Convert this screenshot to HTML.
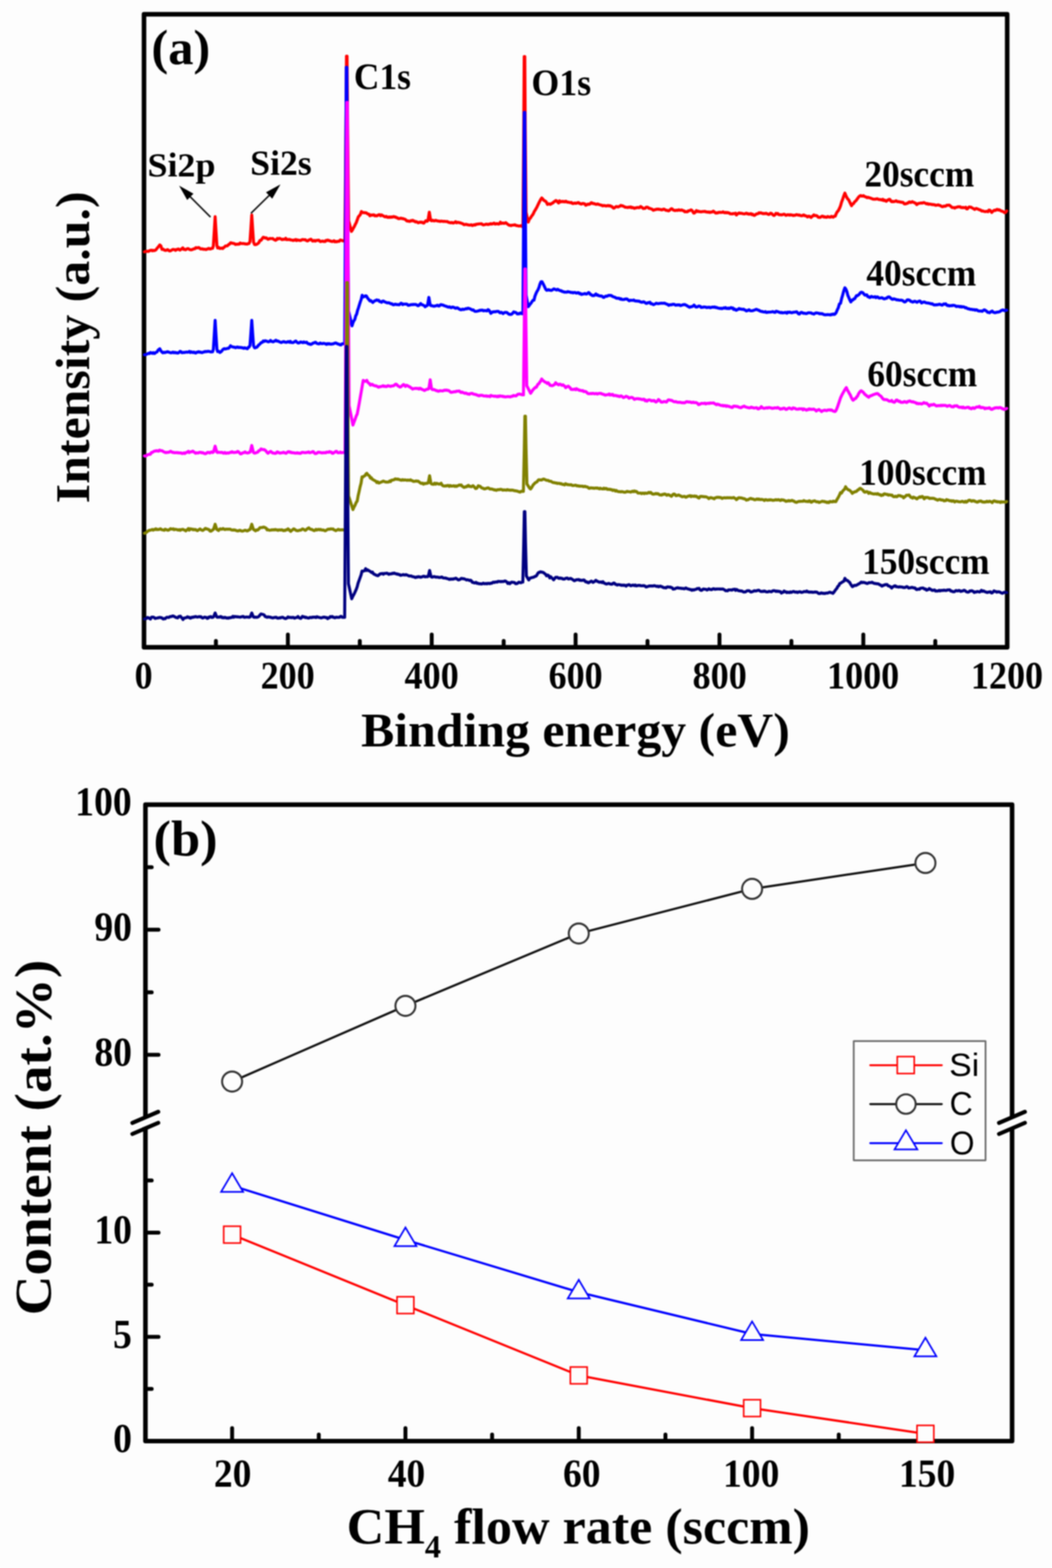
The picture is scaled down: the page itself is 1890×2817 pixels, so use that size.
<!DOCTYPE html>
<html><head><meta charset="utf-8"><title>XPS figure</title>
<style>html,body{margin:0;padding:0;background:#fdfdfd;}svg{display:block;filter:blur(0.8px);}</style>
</head><body>
<svg width="1890" height="2817" viewBox="0 0 1890 2817"><rect x="0" y="0" width="1890" height="2817" fill="#fdfdfd"/>
<rect x="258.7" y="25.7" width="1550.8" height="1137.2" fill="none" stroke="#000" stroke-width="8.2" stroke-linejoin="round"/>
<line x1="387.9" y1="1162.9" x2="387.9" y2="1151.4" stroke="#000" stroke-width="7" stroke-linecap="round"/>
<line x1="517.2" y1="1162.9" x2="517.2" y2="1139.9" stroke="#000" stroke-width="7" stroke-linecap="round"/>
<line x1="646.4" y1="1162.9" x2="646.4" y2="1151.4" stroke="#000" stroke-width="7" stroke-linecap="round"/>
<line x1="775.6" y1="1162.9" x2="775.6" y2="1139.9" stroke="#000" stroke-width="7" stroke-linecap="round"/>
<line x1="904.9" y1="1162.9" x2="904.9" y2="1151.4" stroke="#000" stroke-width="7" stroke-linecap="round"/>
<line x1="1034.1" y1="1162.9" x2="1034.1" y2="1139.9" stroke="#000" stroke-width="7" stroke-linecap="round"/>
<line x1="1163.3" y1="1162.9" x2="1163.3" y2="1151.4" stroke="#000" stroke-width="7" stroke-linecap="round"/>
<line x1="1292.6" y1="1162.9" x2="1292.6" y2="1139.9" stroke="#000" stroke-width="7" stroke-linecap="round"/>
<line x1="1421.8" y1="1162.9" x2="1421.8" y2="1151.4" stroke="#000" stroke-width="7" stroke-linecap="round"/>
<line x1="1551.0" y1="1162.9" x2="1551.0" y2="1139.9" stroke="#000" stroke-width="7" stroke-linecap="round"/>
<line x1="1680.3" y1="1162.9" x2="1680.3" y2="1151.4" stroke="#000" stroke-width="7" stroke-linecap="round"/>
<path d="M259.5 452.5 L261.3 451.7 L263.1 451.6 L264.9 451.3 L266.6 451.7 L268.4 450.6 L270.2 449.8 L272.0 449.5 L273.6 450.6 L275.2 449.7 L276.8 450.3 L278.4 449.7 L280.0 449.0 L282.0 446.2 L284.0 444.0 L287.0 440.0 L289.0 441.8 L291.0 448.0 L292.7 447.4 L294.3 448.7 L296.0 449.5 L297.6 449.8 L299.2 449.3 L300.9 448.4 L302.5 449.3 L304.1 450.6 L305.7 450.8 L307.3 450.1 L309.0 449.0 L310.6 448.1 L312.2 448.3 L313.8 448.6 L315.4 449.8 L317.0 448.3 L318.7 448.2 L320.3 447.3 L321.9 448.4 L323.5 449.3 L325.1 447.8 L326.8 446.8 L328.4 445.3 L330.0 448.0 L331.7 447.6 L333.3 448.7 L335.0 447.7 L336.7 446.8 L338.3 446.7 L340.0 447.9 L341.7 448.6 L343.3 448.8 L345.0 448.4 L346.7 447.7 L348.3 447.0 L350.0 446.9 L351.7 444.9 L353.3 445.3 L355.0 445.4 L356.7 444.6 L358.3 445.4 L360.0 447.0 L361.7 447.2 L363.4 446.9 L365.1 447.8 L366.8 447.6 L368.5 447.9 L370.2 448.3 L371.8 447.5 L373.5 447.2 L375.2 446.2 L376.9 447.4 L378.6 447.1 L380.3 446.1 L382.0 446.0 L383.3 441.7 L384.9 416.3 L386.5 389.3 L388.1 416.2 L389.7 441.3 L391.0 445.4 L393.0 444.6 L395.0 446.4 L397.0 446.0 L398.6 445.8 L400.2 446.4 L401.8 444.6 L403.4 443.8 L405.0 442.0 L406.8 441.9 L408.7 441.5 L410.5 439.5 L412.3 438.6 L414.2 436.2 L416.0 436.5 L417.8 437.1 L419.5 437.2 L421.2 437.8 L423.0 439.3 L424.8 438.7 L426.5 438.9 L428.2 438.5 L430.0 438.5 L431.6 436.6 L433.2 437.4 L434.8 437.6 L436.4 437.5 L438.0 437.6 L439.6 438.0 L441.2 438.2 L442.8 438.4 L444.4 438.5 L446.0 437.5 L447.2 437.6 L449.1 434.2 L450.7 411.1 L452.3 386.2 L453.9 411.4 L455.5 435.2 L457.4 439.3 L458.0 439.5 L461.0 439.0 L463.0 437.8 L465.0 436.0 L467.0 432.0 L469.0 431.8 L471.0 428.7 L473.0 426.3 L474.7 426.7 L476.4 427.8 L478.1 427.2 L479.8 428.5 L481.5 429.9 L483.2 429.3 L484.9 428.4 L486.6 428.6 L488.3 428.6 L490.0 428.5 L491.7 430.1 L493.3 430.6 L495.0 431.7 L496.7 430.7 L498.3 428.4 L500.0 429.3 L501.7 428.2 L503.3 428.6 L505.0 429.4 L506.7 430.5 L508.3 429.8 L510.0 430.0 L511.7 429.9 L513.3 428.2 L515.0 430.6 L516.7 430.2 L518.3 430.5 L520.0 430.0 L521.6 431.0 L523.2 431.0 L524.8 431.5 L526.4 432.0 L528.0 431.2 L529.6 431.5 L531.2 430.4 L532.8 432.2 L534.4 430.9 L536.0 431.6 L537.6 431.7 L539.2 432.0 L540.8 431.8 L542.4 430.6 L544.0 430.3 L545.6 430.6 L547.2 430.8 L548.8 430.8 L550.4 432.1 L552.0 432.8 L553.6 432.4 L555.2 430.9 L556.8 430.8 L558.4 429.7 L560.0 431.0 L561.6 433.1 L563.2 432.9 L564.8 431.9 L566.4 433.2 L568.0 432.0 L569.6 432.0 L571.2 431.6 L572.8 431.5 L574.4 433.2 L576.0 434.1 L577.6 433.4 L579.2 433.2 L580.8 433.7 L582.4 433.5 L584.0 433.9 L585.6 432.0 L587.2 432.3 L588.8 431.2 L590.4 432.2 L592.0 432.3 L593.6 433.2 L595.2 433.4 L596.8 434.0 L598.4 433.5 L600.0 432.5 L601.6 434.4 L603.2 433.6 L604.8 434.5 L606.4 433.6 L608.0 433.4 L609.6 433.5 L611.2 431.3 L612.8 431.5 L614.4 432.0 L616.0 432.7 L619.6 432.7 L621.3 250.3 L622.5 101.0 L623.5 101.0 L624.7 242.6 L626.4 396.8 L631.4 415.7 L633.1 413.3 L634.8 409.9 L636.6 406.9 L638.3 403.1 L640.0 400.0 L641.9 394.8 L643.7 389.8 L645.6 387.5 L647.4 385.4 L649.3 380.0 L651.1 381.6 L652.9 382.1 L654.7 382.0 L656.5 382.3 L658.3 382.5 L660.4 384.3 L662.5 384.7 L664.6 387.6 L666.3 386.2 L668.1 386.7 L669.8 386.1 L671.6 385.9 L673.3 387.7 L675.1 387.2 L676.8 387.9 L678.6 386.9 L680.3 386.0 L682.1 385.8 L683.8 387.6 L685.5 386.1 L687.2 387.2 L688.9 387.9 L690.6 389.1 L692.3 389.6 L694.0 388.7 L695.7 390.2 L697.4 390.5 L699.1 389.6 L700.8 390.5 L702.5 389.6 L704.2 390.2 L705.8 389.6 L707.4 389.0 L709.1 390.1 L710.7 389.8 L712.3 391.1 L713.9 391.2 L715.5 392.6 L717.1 392.8 L718.8 392.3 L720.4 391.9 L722.0 392.7 L723.6 392.6 L725.3 393.3 L726.9 393.7 L728.5 394.4 L730.1 396.3 L731.8 397.2 L733.4 396.8 L735.0 397.7 L736.6 397.6 L738.3 396.3 L739.9 396.8 L741.5 395.8 L743.2 397.2 L744.8 397.3 L746.4 398.8 L748.0 398.2 L749.7 399.1 L751.3 400.2 L752.9 399.6 L754.5 398.9 L756.2 399.5 L757.8 399.0 L759.6 400.4 L761.5 400.9 L763.3 398.5 L765.2 396.6 L767.0 397.5 L767.5 397.4 L768.9 396.1 L770.1 388.8 L771.3 381.2 L772.5 388.7 L773.7 395.6 L775.1 396.6 L776.0 396.5 L777.6 395.7 L779.2 396.8 L780.8 396.7 L782.5 395.8 L784.1 396.4 L785.7 396.8 L787.3 397.2 L788.9 397.1 L790.5 397.8 L792.1 397.3 L793.8 397.4 L795.4 397.7 L797.0 397.8 L798.6 397.8 L800.3 397.9 L801.9 398.1 L803.6 398.0 L805.2 399.1 L806.9 399.7 L808.6 400.0 L810.2 400.2 L811.9 399.7 L813.5 400.5 L815.2 400.6 L816.9 399.4 L818.5 398.3 L820.2 400.2 L821.9 399.5 L823.5 399.5 L825.2 400.1 L826.8 400.2 L828.5 401.0 L830.2 401.5 L831.8 402.2 L833.5 403.5 L835.1 403.6 L836.8 402.9 L838.5 403.3 L840.1 403.9 L841.8 404.0 L843.4 404.5 L845.1 404.2 L846.8 403.8 L848.4 405.1 L850.1 404.6 L851.7 403.7 L853.4 404.3 L855.1 403.0 L856.7 403.0 L858.4 402.5 L860.1 402.4 L861.7 402.1 L863.4 402.1 L865.0 402.0 L866.7 403.3 L868.4 404.0 L870.0 403.7 L871.7 403.3 L873.3 402.7 L875.0 402.9 L876.6 403.3 L878.2 402.8 L879.8 402.9 L881.4 401.8 L883.0 402.6 L884.6 402.2 L886.2 401.5 L887.8 400.9 L889.4 402.5 L891.0 402.3 L892.6 401.7 L894.2 402.2 L895.8 402.6 L897.4 401.6 L899.0 399.2 L900.6 401.6 L902.2 400.9 L903.8 400.8 L905.4 401.3 L907.0 400.9 L908.6 400.0 L910.2 401.4 L911.8 402.6 L913.4 403.7 L915.0 404.8 L916.6 404.6 L918.2 405.3 L919.9 404.6 L921.5 404.4 L923.1 404.4 L924.7 403.9 L926.3 404.5 L927.9 405.3 L929.5 405.4 L931.1 405.8 L932.7 406.1 L934.3 405.8 L935.9 405.5 L937.5 406.7 L939.5 406.7 L940.9 239.0 L941.8 101.8 L942.8 101.8 L943.7 235.5 L945.1 381.2 L949.0 399.0 L950.9 394.0 L952.9 391.8 L954.8 388.6 L956.7 386.3 L958.4 383.4 L960.0 379.7 L961.7 377.2 L963.3 374.4 L965.0 371.2 L966.7 367.6 L968.3 364.3 L970.0 361.0 L971.6 358.1 L973.3 355.7 L975.0 357.2 L976.7 359.6 L978.4 360.6 L980.1 361.6 L981.8 363.6 L983.5 367.2 L985.2 366.5 L986.8 366.1 L988.5 367.2 L990.2 366.3 L991.8 365.0 L993.5 364.6 L995.2 362.6 L996.9 361.6 L998.5 360.3 L1000.2 361.0 L1001.9 363.1 L1003.5 364.6 L1005.2 360.8 L1006.8 362.8 L1008.5 362.4 L1010.1 361.6 L1011.8 362.5 L1013.4 361.9 L1015.1 362.7 L1016.7 361.5 L1018.4 362.8 L1020.0 363.4 L1021.6 363.2 L1023.2 363.8 L1024.8 364.1 L1026.5 363.7 L1028.1 365.3 L1029.7 365.7 L1031.3 365.2 L1032.9 364.8 L1034.5 365.4 L1036.1 364.9 L1037.8 364.2 L1039.4 363.9 L1041.0 365.5 L1042.6 365.7 L1044.2 366.7 L1045.8 365.8 L1047.5 365.5 L1049.1 365.9 L1050.7 366.3 L1052.3 368.7 L1053.9 368.2 L1055.5 367.0 L1057.1 366.8 L1058.8 367.0 L1060.4 366.1 L1062.0 364.3 L1063.6 364.4 L1065.2 365.9 L1066.8 365.7 L1068.4 366.2 L1070.1 366.9 L1071.7 367.2 L1073.3 366.4 L1074.9 366.9 L1076.5 367.6 L1078.1 368.0 L1079.7 368.5 L1081.4 368.9 L1083.0 369.9 L1084.6 369.2 L1086.2 369.4 L1087.8 369.8 L1089.4 370.0 L1091.1 369.7 L1092.7 369.2 L1094.3 370.0 L1095.9 369.5 L1097.5 370.7 L1099.1 370.9 L1100.7 372.6 L1102.4 374.1 L1104.0 373.3 L1105.6 372.0 L1107.2 371.0 L1108.8 371.4 L1110.4 371.9 L1112.1 371.0 L1113.7 370.5 L1115.3 369.1 L1116.9 369.7 L1118.6 369.7 L1120.2 370.7 L1121.8 371.4 L1123.4 372.4 L1125.0 372.4 L1126.7 372.7 L1128.3 372.7 L1129.9 372.2 L1131.5 372.5 L1133.2 371.7 L1134.8 373.2 L1136.4 372.7 L1138.0 373.6 L1139.7 374.3 L1141.3 373.5 L1142.9 373.5 L1144.5 372.9 L1146.1 372.8 L1147.8 373.2 L1149.4 372.6 L1151.0 371.0 L1152.6 372.0 L1154.3 373.5 L1155.9 374.7 L1157.5 374.4 L1159.1 374.2 L1160.8 372.4 L1162.4 372.1 L1164.0 372.5 L1165.6 374.2 L1167.2 374.3 L1168.9 375.0 L1170.5 375.4 L1172.1 376.3 L1173.7 377.8 L1175.4 377.2 L1177.0 376.5 L1178.6 376.5 L1180.2 375.6 L1181.8 376.0 L1183.5 375.8 L1185.1 376.2 L1186.7 376.4 L1188.3 377.0 L1190.0 376.9 L1191.6 375.9 L1193.2 375.8 L1194.8 376.8 L1196.5 377.8 L1198.1 377.8 L1199.7 378.3 L1201.3 378.8 L1202.9 377.7 L1204.6 376.1 L1206.2 374.9 L1207.8 375.5 L1209.4 377.3 L1211.1 377.7 L1212.7 378.4 L1214.3 377.7 L1215.9 377.7 L1217.5 378.0 L1219.1 376.9 L1220.7 377.5 L1222.3 377.8 L1223.9 377.3 L1225.5 377.5 L1227.1 378.5 L1228.7 378.6 L1230.3 380.6 L1231.9 379.9 L1233.5 380.6 L1235.1 380.3 L1236.7 378.6 L1238.3 378.7 L1239.9 377.9 L1241.5 377.0 L1243.1 378.0 L1244.7 380.2 L1246.3 382.7 L1247.9 382.5 L1249.5 380.3 L1251.1 378.4 L1252.7 380.1 L1254.3 379.3 L1255.9 380.4 L1257.5 380.1 L1259.1 380.6 L1260.7 380.5 L1262.3 380.0 L1263.9 380.1 L1265.5 379.8 L1267.1 380.0 L1268.7 380.8 L1270.3 380.6 L1271.9 381.3 L1273.5 380.7 L1275.1 381.7 L1276.7 381.0 L1278.3 381.1 L1279.9 380.5 L1281.5 379.3 L1283.1 380.5 L1284.7 382.0 L1286.3 382.9 L1287.9 382.2 L1289.5 382.6 L1291.1 381.5 L1292.7 381.5 L1294.3 381.4 L1295.9 381.7 L1297.5 381.4 L1299.1 380.5 L1300.7 381.8 L1302.3 382.2 L1303.9 381.5 L1305.5 382.4 L1307.1 381.8 L1308.7 382.5 L1310.3 382.7 L1311.9 384.1 L1313.5 384.1 L1315.1 384.3 L1316.7 383.8 L1318.3 383.7 L1319.9 383.7 L1321.5 383.0 L1323.1 386.2 L1324.7 384.2 L1326.3 383.6 L1328.0 382.5 L1329.6 383.4 L1331.2 383.0 L1332.8 383.4 L1334.4 383.9 L1336.0 384.1 L1337.6 384.4 L1339.3 383.6 L1340.9 382.9 L1342.5 384.2 L1344.1 383.9 L1345.7 384.9 L1347.3 384.4 L1349.0 383.7 L1350.6 385.6 L1352.2 384.7 L1353.8 386.6 L1355.4 387.0 L1357.0 385.9 L1358.6 384.6 L1360.3 384.1 L1361.9 383.9 L1363.5 382.3 L1365.1 382.9 L1366.7 382.1 L1368.3 382.9 L1369.9 383.7 L1371.6 383.5 L1373.2 383.8 L1374.8 383.7 L1376.4 383.2 L1378.0 384.0 L1379.6 384.7 L1381.2 385.4 L1382.9 384.2 L1384.5 383.0 L1386.1 383.5 L1387.7 385.1 L1389.3 386.6 L1390.9 387.1 L1392.5 385.5 L1394.2 383.2 L1395.8 384.2 L1397.4 383.6 L1399.0 385.6 L1400.6 385.7 L1402.2 385.7 L1403.9 386.1 L1405.5 385.8 L1407.1 385.1 L1408.7 384.8 L1410.3 385.6 L1411.9 386.9 L1413.5 386.3 L1415.2 385.8 L1416.8 385.9 L1418.4 386.6 L1420.0 385.7 L1421.6 386.3 L1423.2 386.3 L1424.9 387.2 L1426.5 386.6 L1428.1 386.9 L1429.7 386.1 L1431.3 385.6 L1432.9 386.0 L1434.6 386.6 L1436.2 386.1 L1437.8 387.2 L1439.4 387.5 L1441.0 387.6 L1442.6 386.7 L1444.3 386.2 L1445.9 387.6 L1447.5 387.6 L1449.1 388.4 L1450.7 389.8 L1452.4 388.5 L1454.0 388.5 L1455.6 389.6 L1457.2 390.7 L1458.8 389.0 L1460.4 387.8 L1462.1 386.0 L1463.7 387.3 L1465.3 387.3 L1466.9 387.5 L1468.5 388.3 L1470.1 390.4 L1471.8 390.5 L1473.4 390.5 L1475.0 389.7 L1476.7 388.4 L1478.4 388.5 L1480.1 390.0 L1481.8 389.4 L1483.5 390.3 L1485.2 390.4 L1486.9 388.9 L1488.6 389.6 L1490.3 390.0 L1492.0 390.1 L1493.7 388.7 L1495.4 389.7 L1497.1 390.2 L1498.8 388.5 L1500.5 388.4 L1502.4 383.7 L1504.3 380.3 L1506.2 378.3 L1508.1 374.6 L1510.0 370.0 L1512.0 363.0 L1514.0 357.7 L1515.9 352.0 L1517.9 346.9 L1519.6 351.3 L1521.3 354.7 L1523.0 357.5 L1524.8 359.1 L1526.5 362.8 L1528.2 366.2 L1529.9 369.6 L1531.5 366.5 L1533.2 366.0 L1534.8 363.4 L1536.5 361.7 L1538.1 360.3 L1539.8 357.8 L1541.4 355.6 L1543.1 353.4 L1544.7 352.2 L1546.3 351.3 L1548.0 352.3 L1549.6 352.3 L1551.3 351.6 L1552.9 352.9 L1554.6 353.5 L1556.2 354.1 L1557.9 355.1 L1559.5 354.5 L1561.2 355.1 L1562.8 355.5 L1564.5 356.1 L1566.1 356.8 L1567.7 357.4 L1569.4 357.9 L1571.0 357.9 L1572.7 357.7 L1574.3 357.5 L1576.0 357.0 L1577.6 358.0 L1579.3 358.5 L1580.9 358.5 L1582.6 358.7 L1584.2 359.4 L1585.9 358.0 L1587.5 360.3 L1589.1 359.4 L1590.7 360.8 L1592.3 361.6 L1593.9 360.0 L1595.5 359.3 L1597.1 358.1 L1598.8 358.2 L1600.4 361.1 L1602.0 362.3 L1603.6 361.8 L1605.2 362.3 L1606.8 362.0 L1608.4 361.6 L1610.0 360.7 L1611.6 361.9 L1613.2 362.5 L1614.8 362.1 L1616.4 363.0 L1618.1 362.9 L1619.7 363.5 L1621.3 363.4 L1622.9 364.0 L1624.5 366.2 L1626.1 366.2 L1627.7 366.1 L1629.3 365.2 L1630.9 365.1 L1632.5 363.5 L1634.1 362.8 L1635.7 363.9 L1637.3 363.3 L1639.0 362.3 L1640.6 363.4 L1642.2 363.6 L1643.8 364.8 L1645.4 365.4 L1647.0 367.5 L1648.6 366.3 L1650.2 365.5 L1651.8 365.1 L1653.4 364.9 L1655.0 364.6 L1656.6 364.8 L1658.3 364.3 L1659.9 363.9 L1661.5 364.6 L1663.1 365.5 L1664.7 366.2 L1666.3 365.7 L1667.9 367.0 L1669.5 366.5 L1671.2 366.9 L1672.8 366.9 L1674.4 367.7 L1676.1 367.4 L1677.7 367.9 L1679.3 368.0 L1681.0 368.9 L1682.6 368.6 L1684.2 368.3 L1685.9 368.0 L1687.5 368.9 L1689.1 369.1 L1690.8 370.4 L1692.4 371.2 L1694.0 371.3 L1695.7 370.2 L1697.3 370.6 L1698.9 370.3 L1700.6 369.0 L1702.2 368.7 L1703.9 368.6 L1705.5 368.5 L1707.1 369.8 L1708.8 371.3 L1710.4 372.8 L1712.0 372.9 L1713.7 372.9 L1715.3 373.8 L1716.9 372.7 L1718.6 372.3 L1720.2 371.8 L1721.8 371.4 L1723.5 371.7 L1725.1 371.5 L1726.7 372.8 L1728.4 373.0 L1730.0 372.8 L1731.6 373.0 L1733.3 373.1 L1734.9 372.3 L1736.5 375.0 L1738.1 375.2 L1739.7 373.1 L1741.3 371.8 L1742.9 372.1 L1744.5 372.2 L1746.1 373.4 L1747.7 374.1 L1749.3 375.0 L1750.9 376.2 L1752.5 375.1 L1754.1 374.5 L1755.8 375.2 L1757.4 375.8 L1759.0 376.7 L1760.6 376.9 L1762.2 377.9 L1763.8 379.1 L1765.4 378.9 L1767.0 379.5 L1768.6 379.9 L1770.2 380.2 L1771.8 379.8 L1773.4 379.7 L1775.0 380.4 L1776.7 377.4 L1778.3 377.7 L1780.0 379.4 L1781.7 381.7 L1783.4 379.7 L1785.0 378.7 L1786.7 377.7 L1788.4 378.0 L1790.1 376.8 L1791.8 376.1 L1793.4 377.3 L1795.1 376.8 L1796.8 377.8 L1798.5 378.9 L1800.1 379.4 L1801.8 380.0 L1803.5 381.1 L1805.2 382.2 L1806.8 381.3 L1808.5 379.0" fill="none" stroke="#ff0000" stroke-width="5.4" stroke-linejoin="round" stroke-linecap="round"/>
<path d="M259.5 637.3 L261.3 637.4 L263.1 636.6 L264.9 635.7 L266.6 634.8 L268.4 635.2 L270.2 633.3 L272.0 634.0 L273.6 634.8 L275.2 633.5 L276.8 635.1 L278.4 634.6 L280.0 633.0 L282.0 632.5 L284.0 629.0 L287.0 626.5 L289.0 630.2 L291.0 632.5 L292.7 633.8 L294.3 632.9 L296.0 633.5 L297.6 632.8 L299.2 632.5 L300.9 631.9 L302.5 632.4 L304.1 633.0 L305.7 633.4 L307.3 633.9 L309.0 633.4 L310.6 632.6 L312.2 633.7 L313.8 632.9 L315.4 633.9 L317.0 633.5 L318.7 634.2 L320.3 634.0 L321.9 632.8 L323.5 631.2 L325.1 631.8 L326.8 633.6 L328.4 633.5 L330.0 633.0 L331.7 633.2 L333.3 632.8 L335.0 632.4 L336.7 632.8 L338.3 632.6 L340.0 631.4 L341.7 633.3 L343.3 632.0 L345.0 632.8 L346.7 633.3 L348.3 632.5 L350.0 633.8 L351.7 634.2 L353.3 632.7 L355.0 632.8 L356.7 631.8 L358.3 632.7 L360.0 632.5 L361.7 633.3 L363.4 633.5 L365.1 632.5 L366.8 632.3 L368.5 631.5 L370.2 631.7 L371.8 631.5 L373.5 631.3 L375.2 631.3 L376.9 631.7 L378.6 632.3 L380.3 632.0 L382.0 632.0 L383.3 627.8 L384.9 602.5 L386.5 575.5 L388.1 602.4 L389.7 627.5 L391.0 631.6 L393.0 631.1 L395.0 633.3 L397.0 632.0 L398.6 630.4 L400.2 628.2 L401.8 626.8 L403.4 626.4 L405.0 627.0 L406.8 626.5 L408.7 625.9 L410.5 625.7 L412.3 624.0 L414.2 621.2 L416.0 622.7 L417.8 623.1 L419.5 623.7 L421.2 623.7 L423.0 624.7 L424.8 624.0 L426.5 623.4 L428.2 624.4 L430.0 624.0 L431.6 624.4 L433.2 624.3 L434.8 624.8 L436.4 625.0 L438.0 625.7 L439.6 624.7 L441.2 625.5 L442.8 625.8 L444.4 626.4 L446.0 624.0 L447.2 624.0 L449.1 620.6 L450.7 598.9 L452.3 575.5 L453.9 599.0 L455.5 621.1 L457.4 624.9 L458.0 625.0 L461.0 624.0 L463.0 622.0 L465.0 619.6 L467.0 618.0 L469.0 615.7 L471.0 615.2 L473.0 612.5 L474.6 613.4 L476.2 612.1 L477.9 612.6 L479.5 613.0 L481.1 613.8 L482.7 614.1 L484.3 613.4 L486.0 611.6 L487.6 613.4 L489.2 613.6 L490.8 614.1 L492.4 613.1 L494.1 612.5 L495.7 611.2 L497.3 612.8 L498.9 612.6 L500.6 613.3 L502.2 614.2 L503.8 614.8 L505.4 615.4 L507.0 614.6 L508.7 613.9 L510.3 613.7 L511.9 614.7 L513.5 614.8 L515.1 615.0 L516.8 614.0 L518.4 613.7 L520.0 615.0 L521.6 613.3 L523.2 615.3 L524.9 615.4 L526.5 615.5 L528.1 614.6 L529.7 613.7 L531.4 612.7 L533.0 614.4 L534.6 615.6 L536.2 616.2 L537.8 615.8 L539.5 614.5 L541.1 614.5 L542.7 615.2 L544.3 615.6 L545.9 614.2 L547.6 615.4 L549.2 615.4 L550.8 614.8 L552.4 616.6 L554.1 617.8 L555.7 617.6 L557.3 618.6 L558.9 618.8 L560.5 617.8 L562.2 616.5 L563.8 616.2 L565.4 615.1 L567.0 615.0 L568.6 616.6 L570.3 617.3 L571.9 617.6 L573.5 617.8 L575.1 616.3 L576.8 617.0 L578.4 617.5 L580.0 617.0 L581.6 617.0 L583.3 617.1 L584.9 617.8 L586.5 618.8 L588.2 617.3 L589.8 618.1 L591.5 617.3 L593.1 618.1 L594.7 618.2 L596.4 618.0 L598.0 617.9 L599.6 617.4 L601.3 616.5 L602.9 616.1 L604.5 616.7 L606.2 617.7 L607.8 618.2 L609.5 618.7 L611.1 619.6 L612.7 619.6 L614.4 617.7 L616.0 617.6 L619.2 617.6 L620.9 344.5 L622.1 121.0 L623.1 121.0 L624.3 330.0 L626.0 557.5 L632.4 585.4 L634.1 580.0 L635.8 576.2 L637.4 573.9 L639.1 567.4 L640.7 564.5 L642.4 557.6 L644.0 553.1 L645.7 547.4 L647.3 542.4 L649.0 537.7 L650.6 530.5 L652.5 533.6 L654.5 532.8 L656.4 531.5 L658.3 531.7 L660.4 535.5 L662.5 538.0 L664.6 540.7 L666.3 540.1 L668.1 542.0 L669.8 543.4 L671.6 541.7 L673.3 540.4 L675.1 539.9 L676.8 538.8 L678.6 539.7 L680.3 539.5 L682.1 541.8 L683.8 542.0 L685.5 543.1 L687.2 541.1 L688.9 540.8 L690.6 542.1 L692.3 542.8 L694.0 543.4 L695.7 544.1 L697.4 544.0 L699.1 544.0 L700.8 545.0 L702.5 545.9 L704.2 545.8 L705.8 547.4 L707.4 547.6 L709.0 546.7 L710.6 546.5 L712.3 547.1 L713.9 547.2 L715.5 547.2 L717.1 547.6 L718.7 546.4 L720.3 544.8 L721.9 545.4 L723.5 547.3 L725.1 546.3 L726.7 546.4 L728.4 546.3 L730.0 546.1 L731.6 546.8 L733.2 548.5 L734.8 548.3 L736.4 548.0 L738.0 547.4 L739.6 547.3 L741.2 547.3 L742.9 546.8 L744.5 547.1 L746.1 546.9 L747.7 547.3 L749.3 548.2 L750.9 549.3 L752.5 548.7 L754.1 546.9 L755.7 545.4 L757.3 547.1 L759.0 547.6 L760.6 548.4 L762.2 549.1 L763.8 551.2 L765.4 549.6 L766.7 549.5 L768.1 548.3 L769.3 541.5 L770.5 534.3 L771.7 541.4 L772.9 548.0 L774.3 549.0 L775.0 549.0 L776.8 549.4 L778.6 550.1 L780.4 550.0 L782.2 549.6 L784.0 549.2 L785.8 548.3 L787.5 549.6 L789.1 549.7 L790.8 547.9 L792.4 547.2 L794.1 547.9 L795.8 548.0 L797.4 548.9 L799.1 549.5 L800.7 550.0 L802.4 550.6 L804.1 551.3 L805.7 551.9 L807.4 551.1 L809.1 552.2 L810.7 552.9 L812.4 551.7 L814.0 551.8 L815.7 552.3 L817.4 553.4 L819.0 553.9 L820.7 553.0 L822.3 553.1 L824.0 554.7 L825.6 555.5 L827.3 556.4 L828.9 556.5 L830.6 555.4 L832.2 556.0 L833.9 555.8 L835.5 555.2 L837.2 554.4 L838.8 554.9 L840.5 553.8 L842.1 554.0 L843.8 554.5 L845.4 555.3 L847.1 556.1 L848.7 557.1 L850.4 556.8 L852.0 558.5 L853.7 559.4 L855.3 559.4 L857.0 559.1 L858.6 558.7 L860.3 558.3 L861.9 557.4 L863.6 557.7 L865.2 557.1 L866.9 557.1 L868.5 558.5 L870.2 558.0 L871.8 557.9 L873.5 558.3 L875.1 558.5 L876.8 556.3 L878.5 557.3 L880.2 559.7 L881.9 562.9 L883.6 561.5 L885.3 560.3 L887.0 560.4 L888.7 560.0 L890.4 560.1 L892.1 559.5 L893.8 559.4 L895.5 559.4 L897.2 561.1 L898.9 562.1 L900.6 561.0 L902.2 562.2 L903.8 563.4 L905.4 562.2 L907.0 561.1 L908.6 561.4 L910.2 561.3 L911.8 562.4 L913.4 563.8 L915.0 564.9 L916.6 564.7 L918.2 564.8 L919.9 563.8 L921.5 562.3 L923.1 560.3 L924.7 561.1 L926.3 561.3 L927.9 562.4 L929.5 564.0 L931.1 563.4 L932.7 563.8 L934.3 562.5 L935.9 562.3 L937.5 563.6 L939.5 563.6 L940.9 364.7 L941.8 201.9 L942.8 201.9 L943.7 358.9 L945.1 530.0 L949.0 550.9 L950.7 548.9 L952.4 546.5 L954.1 544.5 L955.9 541.6 L957.6 539.5 L959.3 539.4 L961.1 532.0 L962.9 527.4 L964.7 523.6 L966.6 520.6 L968.4 516.2 L970.2 510.1 L972.0 506.2 L973.7 506.1 L975.4 509.3 L977.1 512.6 L978.8 516.2 L980.5 519.9 L982.2 521.5 L983.8 521.2 L985.4 520.3 L987.1 521.3 L988.7 521.1 L990.3 521.8 L991.9 521.1 L993.5 520.2 L995.1 519.0 L996.8 519.5 L998.4 520.5 L1000.0 521.0 L1001.7 519.7 L1003.3 520.6 L1005.0 521.5 L1006.7 522.2 L1008.3 522.3 L1010.0 523.9 L1011.7 523.8 L1013.3 524.7 L1015.0 524.6 L1016.7 524.9 L1018.3 524.9 L1020.0 524.0 L1021.6 524.3 L1023.3 524.6 L1024.9 525.1 L1026.5 525.6 L1028.2 525.3 L1029.8 526.2 L1031.4 525.4 L1033.1 525.4 L1034.7 526.3 L1036.3 526.6 L1038.0 525.8 L1039.6 525.9 L1041.2 527.7 L1042.9 527.3 L1044.5 529.0 L1046.1 528.5 L1047.8 528.1 L1049.4 527.9 L1051.0 527.3 L1052.6 528.2 L1054.3 528.1 L1055.9 526.9 L1057.5 525.5 L1059.2 526.8 L1060.8 529.1 L1062.4 529.4 L1064.1 531.1 L1065.7 530.9 L1067.3 531.1 L1069.0 529.5 L1070.6 528.2 L1072.2 530.3 L1073.9 529.8 L1075.5 531.4 L1077.1 531.4 L1078.8 532.0 L1080.4 531.7 L1082.0 532.4 L1083.6 534.0 L1085.2 534.3 L1086.9 532.8 L1088.5 532.0 L1090.1 532.4 L1091.7 531.5 L1093.3 530.8 L1094.9 530.7 L1096.6 530.7 L1098.2 530.9 L1099.8 532.3 L1101.4 532.9 L1103.0 533.6 L1104.6 533.9 L1106.2 535.1 L1107.9 535.8 L1109.5 535.8 L1111.1 536.0 L1112.7 536.0 L1114.3 537.4 L1115.9 536.8 L1117.5 538.1 L1119.2 538.1 L1120.8 538.1 L1122.4 537.5 L1124.0 537.3 L1125.6 537.0 L1127.2 537.6 L1128.9 539.3 L1130.5 540.4 L1132.1 539.4 L1133.7 539.5 L1135.3 539.6 L1136.9 539.6 L1138.5 538.9 L1140.2 540.3 L1141.8 540.7 L1143.4 540.7 L1145.0 540.8 L1146.6 541.2 L1148.2 540.9 L1149.8 542.0 L1151.5 542.7 L1153.1 543.0 L1154.7 542.7 L1156.3 542.2 L1157.9 543.0 L1159.5 544.1 L1161.2 545.1 L1162.8 544.6 L1164.4 543.6 L1166.0 543.8 L1167.6 543.0 L1169.2 545.7 L1170.9 545.4 L1172.5 546.6 L1174.1 547.3 L1175.7 546.6 L1177.3 545.9 L1178.9 544.8 L1180.6 545.2 L1182.2 545.5 L1183.8 545.4 L1185.4 545.0 L1187.0 544.9 L1188.6 544.7 L1190.3 544.9 L1191.9 544.8 L1193.5 544.6 L1195.1 545.2 L1196.7 546.0 L1198.3 546.5 L1200.0 547.3 L1201.6 548.6 L1203.2 547.7 L1204.8 547.4 L1206.4 547.7 L1208.1 546.8 L1209.7 546.8 L1211.3 546.8 L1212.9 547.8 L1214.5 548.3 L1216.1 547.7 L1217.8 548.0 L1219.4 547.7 L1221.0 547.8 L1222.6 549.0 L1224.2 548.6 L1225.8 547.9 L1227.5 547.5 L1229.1 547.1 L1230.7 547.2 L1232.3 548.4 L1233.9 548.8 L1235.6 550.4 L1237.2 550.9 L1238.8 552.0 L1240.4 551.2 L1242.0 551.2 L1243.6 550.7 L1245.3 549.8 L1246.9 548.1 L1248.5 549.6 L1250.1 551.6 L1251.7 551.6 L1253.3 551.2 L1255.0 549.9 L1256.6 549.9 L1258.2 550.7 L1259.8 552.4 L1261.4 552.1 L1263.0 552.0 L1264.7 551.4 L1266.3 551.6 L1267.9 551.8 L1269.5 552.6 L1271.1 552.1 L1272.8 552.2 L1274.4 551.9 L1276.0 552.9 L1277.6 552.4 L1279.3 551.8 L1280.9 551.8 L1282.5 552.0 L1284.1 551.4 L1285.8 552.6 L1287.4 552.2 L1289.0 553.2 L1290.6 553.5 L1292.2 553.7 L1293.9 554.3 L1295.5 553.7 L1297.1 554.5 L1298.7 554.0 L1300.4 552.9 L1302.0 553.7 L1303.6 552.6 L1305.2 554.1 L1306.8 554.2 L1308.5 553.4 L1310.1 554.4 L1311.7 553.5 L1313.3 552.6 L1315.0 553.9 L1316.6 553.3 L1318.2 556.0 L1319.8 555.1 L1321.5 556.8 L1323.1 557.3 L1324.7 556.0 L1326.3 555.8 L1327.9 554.2 L1329.6 555.3 L1331.2 555.2 L1332.8 555.7 L1334.4 555.9 L1336.1 555.5 L1337.7 556.8 L1339.3 557.2 L1340.9 558.6 L1342.5 558.2 L1344.2 557.1 L1345.8 556.4 L1347.4 558.0 L1349.0 558.4 L1350.7 558.4 L1352.3 558.1 L1353.9 557.5 L1355.5 557.0 L1357.2 556.4 L1358.8 555.7 L1360.4 556.3 L1362.0 557.4 L1363.6 557.4 L1365.3 558.8 L1366.9 559.1 L1368.5 559.7 L1370.1 559.7 L1371.8 560.4 L1373.4 560.6 L1375.0 559.8 L1376.6 561.2 L1378.2 561.2 L1379.8 560.6 L1381.4 560.9 L1383.0 560.6 L1384.6 560.6 L1386.2 560.3 L1387.9 559.9 L1389.5 560.2 L1391.1 561.1 L1392.7 561.1 L1394.3 559.3 L1395.9 559.5 L1397.5 560.0 L1399.1 560.7 L1400.7 561.2 L1402.3 561.9 L1403.9 561.1 L1405.5 562.1 L1407.1 561.9 L1408.8 561.7 L1410.4 561.3 L1412.0 561.5 L1413.6 562.7 L1415.2 560.8 L1416.8 561.3 L1418.4 560.7 L1420.0 561.2 L1421.6 561.8 L1423.3 561.7 L1424.9 561.2 L1426.5 560.9 L1428.2 560.7 L1429.8 560.4 L1431.4 560.2 L1433.1 562.2 L1434.7 563.8 L1436.3 564.2 L1438.0 562.0 L1439.6 561.1 L1441.2 561.5 L1442.9 562.7 L1444.5 562.7 L1446.1 562.9 L1447.8 563.4 L1449.4 563.3 L1451.0 562.3 L1452.6 561.9 L1454.3 561.9 L1455.9 562.1 L1457.5 562.3 L1459.2 563.3 L1460.8 563.7 L1462.4 564.2 L1464.1 562.9 L1465.7 562.2 L1467.3 562.1 L1469.0 562.4 L1470.6 562.6 L1472.2 563.7 L1473.9 563.2 L1475.5 563.9 L1477.1 563.4 L1478.8 564.5 L1480.4 565.2 L1482.1 565.6 L1483.8 565.5 L1485.4 565.4 L1487.1 565.1 L1488.8 565.4 L1490.5 565.4 L1492.1 565.9 L1493.8 564.6 L1495.5 565.1 L1497.2 564.1 L1498.8 565.0 L1500.5 563.9 L1502.4 561.3 L1504.3 556.6 L1506.2 552.6 L1508.1 545.9 L1510.0 545.0 L1512.0 536.6 L1514.0 529.7 L1515.9 522.4 L1517.9 517.0 L1519.7 519.6 L1521.5 523.9 L1523.2 530.7 L1525.0 534.7 L1526.8 539.0 L1528.6 542.4 L1530.3 539.1 L1532.0 539.1 L1533.7 537.2 L1535.4 536.9 L1537.1 534.0 L1538.8 531.3 L1540.5 531.2 L1542.2 529.9 L1543.9 528.4 L1545.6 526.1 L1547.3 525.0 L1549.0 525.3 L1550.7 526.5 L1552.3 528.6 L1554.0 530.2 L1555.7 529.8 L1557.3 529.8 L1559.0 533.1 L1560.7 533.0 L1562.3 534.6 L1563.9 534.0 L1565.5 532.4 L1567.1 533.2 L1568.7 533.8 L1570.3 533.6 L1572.0 533.0 L1573.6 534.8 L1575.2 533.4 L1576.8 533.4 L1578.4 535.0 L1580.0 535.6 L1581.6 535.4 L1583.2 535.0 L1584.8 534.9 L1586.4 536.0 L1588.0 536.7 L1589.6 536.7 L1591.3 535.9 L1592.9 535.9 L1594.5 534.2 L1596.1 533.4 L1597.7 533.5 L1599.3 534.9 L1600.9 536.2 L1602.5 537.5 L1604.1 537.7 L1605.7 536.8 L1607.3 537.3 L1608.9 537.7 L1610.5 538.5 L1612.2 538.8 L1613.8 538.7 L1615.4 539.4 L1617.0 539.4 L1618.6 539.3 L1620.2 539.5 L1621.8 540.0 L1623.4 541.5 L1625.0 542.5 L1626.6 542.2 L1628.2 540.6 L1629.8 539.0 L1631.5 538.7 L1633.1 539.1 L1634.7 539.7 L1636.3 541.6 L1637.9 541.6 L1639.5 542.7 L1641.1 542.4 L1642.7 541.2 L1644.3 541.4 L1645.9 542.3 L1647.5 543.1 L1649.1 542.0 L1650.7 541.3 L1652.4 540.7 L1654.0 541.9 L1655.6 544.3 L1657.2 543.4 L1658.8 542.8 L1660.4 542.5 L1662.0 543.1 L1663.6 544.0 L1665.2 544.1 L1666.8 544.5 L1668.4 544.5 L1670.0 545.0 L1671.7 545.4 L1673.3 546.0 L1674.9 545.7 L1676.5 547.0 L1678.1 547.7 L1679.7 547.8 L1681.3 547.8 L1682.9 547.4 L1684.5 547.5 L1686.1 547.1 L1687.7 546.4 L1689.3 547.1 L1690.9 547.6 L1692.6 548.3 L1694.2 547.2 L1695.8 545.9 L1697.4 546.6 L1699.0 545.8 L1700.6 547.9 L1702.2 549.0 L1703.8 548.4 L1705.4 549.6 L1707.0 549.4 L1708.6 548.9 L1710.2 549.2 L1711.9 548.4 L1713.5 548.6 L1715.1 548.9 L1716.7 549.7 L1718.3 550.8 L1719.9 550.2 L1721.5 550.5 L1723.1 550.4 L1724.7 551.4 L1726.3 550.5 L1727.9 551.7 L1729.5 551.2 L1731.1 551.2 L1732.7 551.8 L1734.3 553.0 L1735.9 552.6 L1737.5 554.1 L1739.2 554.8 L1740.8 554.8 L1742.4 555.5 L1744.0 555.8 L1745.6 555.6 L1747.2 556.3 L1748.8 556.5 L1750.4 556.1 L1752.0 557.2 L1753.6 556.5 L1755.2 556.8 L1756.8 558.1 L1758.4 558.6 L1760.0 558.9 L1761.6 558.8 L1763.2 558.9 L1764.8 559.3 L1766.4 557.9 L1768.0 556.7 L1769.7 557.2 L1771.3 558.4 L1772.9 559.4 L1774.5 561.1 L1776.1 561.1 L1777.7 561.9 L1779.3 560.6 L1780.9 559.6 L1782.5 558.8 L1784.1 560.6 L1785.7 561.2 L1787.3 561.8 L1789.0 561.3 L1790.6 561.1 L1792.2 560.6 L1793.8 560.6 L1795.5 560.0 L1797.1 559.4 L1798.7 557.9 L1800.4 557.4 L1802.0 556.7 L1803.6 557.7 L1805.2 558.2 L1806.9 557.2 L1808.5 557.2" fill="none" stroke="#0000ff" stroke-width="5.4" stroke-linejoin="round" stroke-linecap="round"/>
<path d="M259.5 819.0 L261.3 819.6 L263.1 818.4 L264.9 817.0 L266.6 816.5 L268.4 816.4 L270.2 816.0 L272.0 813.0 L273.6 812.9 L275.2 811.6 L276.9 810.8 L278.5 810.1 L280.1 810.2 L281.8 809.7 L283.4 810.3 L285.0 810.5 L286.7 808.7 L288.3 809.5 L290.0 809.8 L291.7 809.9 L293.3 811.4 L295.0 812.0 L296.7 813.0 L298.3 812.8 L300.0 813.0 L301.6 812.5 L303.2 812.5 L304.8 811.9 L306.4 810.7 L308.0 811.6 L309.6 812.7 L311.2 812.5 L312.8 813.2 L314.4 813.2 L316.0 813.3 L317.6 812.9 L319.2 813.6 L320.8 813.2 L322.4 813.8 L324.0 813.8 L325.6 813.7 L327.2 814.9 L328.8 814.5 L330.4 813.6 L332.0 814.7 L333.6 813.4 L335.2 812.9 L336.8 812.0 L338.4 810.9 L340.0 813.0 L341.6 811.9 L343.2 811.8 L344.8 811.3 L346.5 810.5 L348.1 812.0 L349.7 812.9 L351.3 814.3 L352.9 813.4 L354.5 813.7 L356.2 813.9 L357.8 812.8 L359.4 812.7 L361.0 812.6 L362.6 813.6 L364.2 813.1 L365.8 814.0 L367.5 814.8 L369.1 815.1 L370.7 814.3 L372.3 813.0 L373.9 812.8 L375.5 813.0 L377.2 813.8 L378.8 812.4 L380.4 811.9 L382.0 813.0 L383.5 812.1 L385.0 807.0 L386.5 801.5 L388.0 807.0 L389.5 812.1 L391.0 813.0 L392.6 812.4 L394.2 812.6 L395.8 813.0 L397.4 812.8 L399.1 812.7 L400.7 814.0 L402.3 814.1 L403.9 812.8 L405.5 814.4 L407.1 814.2 L408.7 813.4 L410.3 814.1 L411.9 813.5 L413.6 812.4 L415.2 812.9 L416.8 811.6 L418.4 812.6 L420.0 813.0 L421.7 812.8 L423.4 812.6 L425.1 812.6 L426.8 811.0 L428.4 811.6 L430.1 813.3 L431.8 815.3 L433.5 815.2 L435.2 814.0 L436.9 813.4 L438.6 813.0 L440.2 811.8 L441.9 813.2 L443.6 813.6 L445.3 813.8 L447.0 813.0 L447.5 813.0 L449.3 812.3 L450.8 806.6 L452.3 800.3 L453.8 806.7 L455.3 812.8 L457.0 814.0 L459.0 813.8 L461.0 813.0 L463.0 812.2 L465.0 809.7 L467.0 809.0 L469.0 806.6 L471.0 807.4 L473.0 807.9 L474.8 807.8 L476.5 808.9 L478.2 810.7 L480.0 813.0 L481.6 814.3 L483.3 812.8 L484.9 811.6 L486.5 811.0 L488.1 812.4 L489.8 813.8 L491.4 813.9 L493.0 814.3 L494.7 814.5 L496.3 814.0 L497.9 811.9 L499.5 812.4 L501.2 813.4 L502.8 814.0 L504.4 813.9 L506.0 813.4 L507.7 813.2 L509.3 812.5 L510.9 813.2 L512.6 813.9 L514.2 814.4 L515.8 812.9 L517.4 811.6 L519.1 811.4 L520.7 812.7 L522.3 812.1 L524.0 813.5 L525.6 813.1 L527.2 813.5 L528.8 813.7 L530.5 814.0 L532.1 814.1 L533.7 813.3 L535.3 814.2 L537.0 813.9 L538.6 814.5 L540.2 814.4 L541.9 813.0 L543.5 812.7 L545.1 812.8 L546.7 813.1 L548.4 813.4 L550.0 813.0 L551.6 812.8 L553.2 812.5 L554.8 811.9 L556.5 813.4 L558.1 813.0 L559.7 812.5 L561.3 811.5 L562.9 811.4 L564.5 813.5 L566.1 814.8 L567.7 814.7 L569.4 814.2 L571.0 812.6 L572.6 812.3 L574.2 812.8 L575.8 812.9 L577.4 813.5 L579.0 813.7 L580.6 813.2 L582.3 813.5 L583.9 813.0 L585.5 813.5 L587.1 812.1 L588.7 812.4 L590.3 812.5 L591.9 811.3 L593.5 812.2 L595.2 812.2 L596.8 814.3 L598.4 814.4 L600.0 813.0 L601.6 812.4 L603.2 810.9 L604.8 811.0 L606.4 813.1 L608.0 813.5 L609.6 813.2 L611.2 812.1 L612.8 813.4 L614.4 813.1 L616.0 813.0 L620.0 813.0 L621.8 467.0 L623.1 183.9 L624.1 183.9 L625.4 444.8 L627.2 728.8 L634.1 763.6 L636.0 758.3 L637.9 753.5 L639.8 747.8 L641.7 744.0 L643.5 734.8 L645.3 725.0 L647.1 714.5 L648.9 704.4 L650.7 693.8 L652.5 683.4 L654.1 684.3 L655.8 685.1 L657.4 684.8 L659.0 683.4 L660.6 686.5 L662.2 688.3 L663.9 689.2 L665.5 692.0 L667.1 690.7 L668.8 690.4 L670.4 692.1 L672.0 692.4 L673.6 693.2 L675.2 693.1 L676.9 693.8 L678.5 694.9 L680.1 695.7 L681.8 694.6 L683.4 694.8 L685.0 694.2 L686.7 693.8 L688.3 693.0 L690.0 694.2 L691.7 693.8 L693.3 694.5 L695.0 694.3 L696.7 693.0 L698.4 693.1 L700.0 693.8 L701.7 694.2 L703.4 693.5 L705.0 693.4 L706.7 693.1 L708.4 692.1 L710.0 690.7 L711.7 690.2 L713.4 691.6 L715.0 693.3 L716.7 694.1 L718.4 695.3 L720.1 695.0 L721.7 693.7 L723.4 692.0 L725.1 690.8 L726.7 692.1 L728.4 694.2 L730.0 692.2 L731.6 692.6 L733.3 693.4 L734.9 694.9 L736.5 695.0 L738.1 696.7 L739.8 697.4 L741.4 699.0 L743.0 698.1 L744.6 698.0 L746.3 697.7 L747.9 697.6 L749.5 698.1 L751.1 697.8 L752.8 698.9 L754.4 697.5 L756.0 698.1 L757.6 699.4 L759.3 699.9 L760.9 700.7 L762.7 701.5 L764.5 700.4 L766.2 699.6 L768.0 699.0 L769.1 699.1 L770.5 698.0 L771.7 690.5 L772.9 682.3 L774.1 690.6 L775.3 698.4 L776.7 699.9 L778.0 700.0 L779.8 699.8 L781.6 700.7 L783.4 701.7 L785.2 701.8 L787.0 702.9 L788.7 702.7 L790.3 701.8 L792.0 702.1 L793.6 702.1 L795.3 702.4 L796.9 701.6 L798.6 701.0 L800.2 701.2 L801.9 700.8 L803.5 701.3 L805.2 701.5 L806.8 702.1 L808.5 703.5 L810.1 704.8 L811.8 704.8 L813.4 704.2 L815.1 704.0 L816.8 703.6 L818.4 703.8 L820.1 702.8 L821.8 702.9 L823.4 702.6 L825.1 702.4 L826.8 704.2 L828.5 705.3 L830.1 704.3 L831.8 705.2 L833.5 705.9 L835.1 706.7 L836.8 706.1 L838.4 706.7 L840.0 707.9 L841.6 707.7 L843.2 708.4 L844.8 707.1 L846.4 706.9 L848.1 706.7 L849.7 707.6 L851.3 708.1 L852.9 708.4 L854.5 708.8 L856.1 709.4 L857.7 710.0 L859.3 710.6 L860.9 711.1 L862.5 710.1 L864.1 710.2 L865.7 710.1 L867.3 710.5 L868.9 711.4 L870.6 711.4 L872.2 711.5 L873.8 711.2 L875.4 712.0 L877.0 711.7 L878.6 711.9 L880.2 712.6 L881.8 710.4 L883.5 711.0 L885.1 711.4 L886.7 711.7 L888.3 712.0 L890.0 711.7 L891.6 712.2 L893.2 712.8 L894.8 711.5 L896.5 712.6 L898.1 711.1 L899.7 711.6 L901.3 712.0 L903.0 711.7 L904.6 712.8 L906.2 712.4 L907.8 713.2 L909.5 712.9 L911.1 712.5 L912.7 712.6 L914.3 712.5 L915.9 713.0 L917.5 712.8 L919.2 712.0 L920.8 711.8 L922.4 710.5 L924.0 711.1 L925.6 711.0 L927.2 711.2 L928.8 709.8 L930.4 708.4 L932.0 708.1 L933.7 708.0 L935.3 708.3 L936.9 708.8 L938.5 709.4 L940.4 709.4 L941.9 585.0 L942.9 483.2 L943.9 483.2 L944.9 583.7 L946.4 693.1 L953.3 706.5 L955.0 703.9 L956.6 701.5 L958.3 699.3 L959.9 697.9 L961.6 695.9 L963.2 695.9 L964.9 693.3 L966.6 690.1 L968.2 689.3 L969.9 686.4 L971.5 684.6 L973.2 680.9 L974.9 683.2 L976.5 684.2 L978.2 685.7 L979.9 686.8 L981.5 687.2 L983.2 689.0 L984.9 687.7 L986.6 689.6 L988.2 692.3 L989.9 692.4 L991.6 693.0 L993.3 692.5 L995.0 691.4 L996.6 690.4 L998.3 687.5 L1000.0 689.9 L1001.6 689.9 L1003.2 691.4 L1004.9 690.7 L1006.5 690.2 L1008.1 691.2 L1009.7 692.3 L1011.4 691.2 L1013.0 692.7 L1014.6 693.7 L1016.2 696.4 L1017.9 695.4 L1019.5 694.3 L1021.1 693.8 L1022.7 695.4 L1024.4 696.8 L1026.0 699.5 L1027.6 699.5 L1029.2 699.7 L1030.9 699.5 L1032.5 698.9 L1034.1 700.1 L1035.7 698.3 L1037.4 699.7 L1039.0 699.9 L1040.6 701.2 L1042.2 701.1 L1043.9 701.8 L1045.5 702.0 L1047.1 701.8 L1048.7 703.5 L1050.4 703.2 L1052.0 703.5 L1053.6 704.3 L1055.2 706.2 L1056.8 707.1 L1058.5 707.4 L1060.1 707.0 L1061.7 707.0 L1063.3 707.2 L1065.0 706.7 L1066.6 707.0 L1068.2 707.5 L1069.8 707.2 L1071.4 706.9 L1073.1 707.9 L1074.7 707.3 L1076.3 706.7 L1077.9 706.9 L1079.6 706.6 L1081.2 707.7 L1082.8 708.2 L1084.4 708.5 L1086.1 709.3 L1087.7 709.8 L1089.3 709.4 L1090.9 709.1 L1092.5 709.1 L1094.2 707.9 L1095.8 709.6 L1097.4 708.6 L1099.0 709.6 L1100.7 708.6 L1102.3 710.7 L1103.9 710.6 L1105.5 710.3 L1107.2 710.8 L1108.8 711.5 L1110.4 711.3 L1112.0 712.4 L1113.6 712.5 L1115.3 711.1 L1116.9 711.7 L1118.5 713.0 L1120.1 714.3 L1121.8 713.7 L1123.4 712.9 L1125.0 711.9 L1126.6 712.7 L1128.2 713.3 L1129.9 715.4 L1131.5 714.9 L1133.1 714.1 L1134.7 714.0 L1136.4 714.3 L1138.0 715.7 L1139.6 717.5 L1141.2 716.8 L1142.8 716.3 L1144.5 716.4 L1146.1 716.2 L1147.7 716.7 L1149.3 716.8 L1151.0 717.0 L1152.6 717.6 L1154.2 718.0 L1155.8 717.2 L1157.5 717.5 L1159.1 720.0 L1160.7 719.0 L1162.3 720.6 L1163.9 719.3 L1165.5 718.4 L1167.1 718.5 L1168.7 719.0 L1170.3 720.3 L1171.9 719.7 L1173.5 720.2 L1175.1 719.4 L1176.7 721.0 L1178.3 722.2 L1179.9 721.5 L1181.5 719.8 L1183.1 717.8 L1184.7 719.3 L1186.3 720.5 L1187.9 722.4 L1189.5 722.5 L1191.1 722.2 L1192.7 721.3 L1194.3 721.6 L1195.9 721.8 L1197.5 722.3 L1199.1 719.9 L1200.7 718.4 L1202.3 718.5 L1203.9 719.0 L1205.5 719.2 L1207.1 719.7 L1208.7 720.5 L1210.3 721.5 L1211.9 721.9 L1213.5 721.5 L1215.1 721.8 L1216.7 722.6 L1218.3 722.8 L1219.9 722.8 L1221.5 722.7 L1223.1 723.0 L1224.7 723.5 L1226.3 723.5 L1227.9 723.4 L1229.5 723.7 L1231.1 723.1 L1232.7 722.0 L1234.3 721.7 L1235.9 722.1 L1237.5 722.3 L1239.1 722.3 L1240.7 722.4 L1242.3 723.3 L1243.9 723.1 L1245.5 722.5 L1247.1 723.3 L1248.7 723.4 L1250.3 723.2 L1251.9 724.0 L1253.5 724.9 L1255.1 727.0 L1256.7 726.5 L1258.3 725.7 L1259.9 724.6 L1261.5 724.6 L1263.1 724.9 L1264.7 724.7 L1266.3 724.3 L1267.9 725.7 L1269.5 724.7 L1271.1 724.9 L1272.7 724.4 L1274.3 724.8 L1275.9 723.9 L1277.5 724.2 L1279.1 724.1 L1280.7 724.0 L1282.4 723.9 L1284.0 725.4 L1285.6 726.0 L1287.2 727.1 L1288.8 725.9 L1290.4 726.7 L1292.0 727.2 L1293.6 727.7 L1295.2 728.4 L1296.8 728.7 L1298.4 728.1 L1300.0 729.4 L1301.6 728.8 L1303.2 728.7 L1304.8 730.1 L1306.4 729.0 L1308.1 730.0 L1309.7 729.9 L1311.3 730.8 L1312.9 731.2 L1314.5 732.0 L1316.1 732.0 L1317.7 729.7 L1319.3 729.7 L1320.9 729.6 L1322.5 730.4 L1324.1 730.1 L1325.7 730.6 L1327.3 731.6 L1328.9 731.9 L1330.5 732.5 L1332.1 732.2 L1333.7 730.9 L1335.4 730.4 L1337.0 729.6 L1338.6 730.8 L1340.2 731.2 L1341.8 731.9 L1343.4 732.1 L1345.0 732.6 L1346.6 732.8 L1348.2 732.4 L1349.8 731.4 L1351.5 732.4 L1353.1 732.5 L1354.7 733.1 L1356.4 732.9 L1358.0 732.5 L1359.6 732.5 L1361.3 734.3 L1362.9 734.7 L1364.5 733.1 L1366.2 733.0 L1367.8 730.5 L1369.4 732.4 L1371.0 733.1 L1372.7 733.6 L1374.3 733.4 L1375.9 732.8 L1377.6 732.5 L1379.2 733.1 L1380.8 732.2 L1382.5 732.2 L1384.1 732.8 L1385.7 732.9 L1387.4 733.7 L1389.0 733.3 L1390.6 733.2 L1392.3 732.7 L1393.9 732.9 L1395.5 733.1 L1397.2 732.1 L1398.8 733.0 L1400.4 733.8 L1402.0 735.1 L1403.7 734.3 L1405.3 734.6 L1406.9 733.7 L1408.6 733.2 L1410.2 734.0 L1411.8 735.5 L1413.5 735.4 L1415.1 734.2 L1416.7 733.2 L1418.4 733.0 L1420.0 733.8 L1421.6 734.8 L1423.2 734.9 L1424.8 732.8 L1426.4 733.4 L1428.0 733.4 L1429.6 734.7 L1431.2 735.1 L1432.8 735.1 L1434.4 735.0 L1436.0 734.3 L1437.6 734.6 L1439.2 734.4 L1440.9 734.5 L1442.5 736.3 L1444.1 734.5 L1445.7 735.4 L1447.3 736.0 L1448.9 737.0 L1450.5 735.7 L1452.1 736.0 L1453.7 734.5 L1455.3 735.5 L1456.9 735.0 L1458.5 735.6 L1460.1 735.3 L1461.7 734.9 L1463.3 735.8 L1464.9 736.7 L1466.5 738.4 L1468.1 737.1 L1469.7 736.5 L1471.3 735.7 L1472.9 737.0 L1474.5 738.0 L1476.1 739.4 L1477.7 737.9 L1479.3 737.6 L1480.9 737.0 L1482.6 736.9 L1484.2 737.7 L1485.8 737.6 L1487.4 736.5 L1489.0 736.6 L1490.6 736.3 L1492.2 737.0 L1493.8 736.4 L1495.4 737.5 L1497.0 738.6 L1498.6 738.9 L1500.2 739.4 L1501.8 737.8 L1503.4 734.1 L1505.1 729.7 L1506.7 724.9 L1508.4 719.8 L1510.0 715.0 L1511.8 711.1 L1513.5 707.8 L1515.2 704.7 L1517.0 701.5 L1518.8 698.6 L1520.5 696.3 L1522.2 700.3 L1524.0 703.3 L1525.7 706.6 L1527.4 709.2 L1529.1 713.1 L1530.9 716.9 L1532.6 719.0 L1534.2 717.9 L1535.8 716.3 L1537.4 715.7 L1539.0 713.2 L1540.7 711.5 L1542.3 707.8 L1543.9 705.3 L1545.5 703.1 L1547.1 702.0 L1548.7 703.0 L1550.4 704.4 L1552.1 706.3 L1553.8 708.5 L1555.6 709.8 L1557.3 711.3 L1559.0 712.3 L1560.7 713.7 L1562.3 711.8 L1564.0 711.4 L1565.6 710.4 L1567.3 710.1 L1568.9 708.9 L1570.6 708.6 L1572.2 707.9 L1573.9 707.5 L1575.5 707.0 L1577.2 707.4 L1578.9 709.0 L1580.6 710.5 L1582.4 711.5 L1584.1 713.6 L1585.8 716.0 L1587.5 717.7 L1589.1 717.8 L1590.7 718.0 L1592.3 717.9 L1593.9 718.4 L1595.5 719.3 L1597.1 720.5 L1598.8 720.7 L1600.4 720.6 L1602.0 719.4 L1603.6 721.8 L1605.2 722.0 L1606.8 722.7 L1608.4 721.4 L1610.0 718.9 L1611.6 718.6 L1613.2 720.2 L1614.8 721.3 L1616.4 720.7 L1618.1 722.6 L1619.7 723.0 L1621.3 722.6 L1622.9 722.7 L1624.5 721.5 L1626.1 721.7 L1627.7 722.8 L1629.3 723.0 L1630.9 721.2 L1632.5 721.3 L1634.1 720.2 L1635.7 720.8 L1637.3 721.8 L1639.0 722.0 L1640.6 721.7 L1642.2 722.7 L1643.8 723.0 L1645.4 723.5 L1647.0 725.1 L1648.6 724.4 L1650.2 725.5 L1651.8 725.1 L1653.4 724.9 L1655.0 725.7 L1656.6 725.5 L1658.3 724.4 L1659.9 723.2 L1661.5 724.3 L1663.1 724.6 L1664.7 724.3 L1666.3 726.0 L1667.9 727.1 L1669.5 729.5 L1671.1 728.1 L1672.7 727.0 L1674.3 727.6 L1675.9 727.4 L1677.5 726.3 L1679.1 727.3 L1680.7 728.4 L1682.4 729.2 L1684.0 729.0 L1685.6 728.8 L1687.2 728.6 L1688.8 729.0 L1690.4 728.0 L1692.0 728.9 L1693.6 728.0 L1695.2 728.5 L1696.8 728.2 L1698.4 728.4 L1700.0 729.0 L1701.6 730.0 L1703.2 729.2 L1704.8 728.8 L1706.4 728.4 L1708.1 729.6 L1709.7 730.7 L1711.3 730.5 L1712.9 731.0 L1714.5 729.1 L1716.1 729.1 L1717.7 729.4 L1719.3 728.9 L1720.9 730.5 L1722.5 731.4 L1724.1 731.9 L1725.7 731.8 L1727.3 731.5 L1728.9 732.7 L1730.5 731.4 L1732.1 732.9 L1733.7 732.8 L1735.4 732.5 L1737.0 732.0 L1738.6 731.7 L1740.2 731.8 L1741.8 733.5 L1743.4 733.1 L1745.0 734.5 L1746.6 733.1 L1748.2 732.4 L1749.8 733.8 L1751.5 733.4 L1753.1 731.9 L1754.7 731.2 L1756.3 731.1 L1758.0 731.4 L1759.6 730.0 L1761.2 732.2 L1762.9 732.5 L1764.5 731.9 L1766.1 732.3 L1767.8 732.7 L1769.4 734.3 L1771.0 733.2 L1772.6 733.7 L1774.3 733.3 L1775.9 733.3 L1777.5 732.5 L1779.2 734.2 L1780.8 735.4 L1782.4 735.4 L1784.1 733.9 L1785.7 733.9 L1787.3 732.6 L1788.9 732.9 L1790.6 732.4 L1792.2 732.5 L1793.8 733.1 L1795.5 732.2 L1797.1 732.3 L1798.7 732.8 L1800.4 734.2 L1802.0 734.3 L1803.6 735.5 L1805.2 734.9 L1806.9 734.8 L1808.5 733.8" fill="none" stroke="#ff00ff" stroke-width="5.4" stroke-linejoin="round" stroke-linecap="round"/>
<path d="M259.5 958.0 L261.3 957.7 L263.1 956.4 L264.9 954.7 L266.6 953.6 L268.4 952.7 L270.2 952.5 L272.0 952.0 L273.6 951.2 L275.2 952.4 L276.8 951.1 L278.4 951.5 L280.0 950.0 L281.7 951.5 L283.3 951.2 L285.0 951.4 L286.7 950.8 L288.3 950.0 L290.0 951.2 L291.7 951.9 L293.3 952.1 L295.0 952.6 L296.7 950.7 L298.3 951.4 L300.0 952.0 L301.6 952.6 L303.2 952.1 L304.8 951.1 L306.4 949.8 L308.0 950.3 L309.6 950.7 L311.2 950.1 L312.8 951.7 L314.4 950.8 L316.0 951.1 L317.6 951.4 L319.2 952.0 L320.8 952.3 L322.4 951.5 L324.0 952.8 L325.6 951.4 L327.2 951.3 L328.8 951.0 L330.4 952.0 L332.0 952.4 L333.6 953.8 L335.2 952.5 L336.8 951.3 L338.4 949.6 L340.0 952.5 L341.6 950.0 L343.2 950.7 L344.8 950.4 L346.5 951.7 L348.1 951.0 L349.7 951.8 L351.3 951.3 L352.9 952.4 L354.5 953.3 L356.2 952.3 L357.8 951.3 L359.4 950.2 L361.0 951.6 L362.6 952.5 L364.2 953.0 L365.8 952.0 L367.5 950.5 L369.1 949.2 L370.7 950.4 L372.3 950.3 L373.9 951.2 L375.5 951.5 L377.2 954.1 L378.8 954.3 L380.4 953.4 L382.0 952.0 L383.5 951.2 L385.0 946.7 L386.5 941.8 L388.0 946.7 L389.5 951.2 L391.0 952.0 L392.6 953.2 L394.2 951.0 L395.8 950.0 L397.4 950.7 L399.1 950.6 L400.7 949.4 L402.3 950.5 L403.9 951.3 L405.5 950.8 L407.1 950.8 L408.7 950.7 L410.3 950.7 L411.9 950.7 L413.6 950.8 L415.2 951.8 L416.8 952.2 L418.4 952.2 L420.0 952.0 L421.7 952.2 L423.4 952.7 L425.1 953.4 L426.8 953.8 L428.4 953.8 L430.1 952.7 L431.8 953.0 L433.5 953.8 L435.2 954.2 L436.9 953.8 L438.6 953.2 L440.2 952.6 L441.9 952.9 L443.6 953.8 L445.3 953.6 L447.0 952.0 L447.5 952.0 L449.3 951.2 L450.8 946.7 L452.3 941.8 L453.8 946.7 L455.3 951.2 L457.0 952.0 L459.0 953.8 L461.0 952.0 L463.0 952.2 L465.0 950.4 L467.0 948.0 L469.0 947.9 L471.0 947.7 L473.0 947.0 L474.8 947.2 L476.5 947.9 L478.2 949.0 L480.0 952.0 L481.6 951.5 L483.3 952.5 L484.9 952.6 L486.5 952.3 L488.1 951.8 L489.8 952.1 L491.4 951.7 L493.0 952.0 L494.7 951.3 L496.3 952.0 L497.9 951.9 L499.5 952.8 L501.2 951.9 L502.8 952.0 L504.4 952.4 L506.0 951.6 L507.7 952.4 L509.3 953.4 L510.9 952.8 L512.6 953.0 L514.2 951.7 L515.8 951.8 L517.4 950.1 L519.1 951.4 L520.7 953.2 L522.3 954.6 L524.0 952.8 L525.6 951.9 L527.2 950.3 L528.8 950.5 L530.5 951.9 L532.1 952.8 L533.7 953.3 L535.3 953.5 L537.0 953.0 L538.6 952.4 L540.2 952.6 L541.9 951.5 L543.5 950.2 L545.1 950.8 L546.7 951.9 L548.4 952.8 L550.0 952.0 L551.6 950.3 L553.2 949.2 L554.8 948.2 L556.5 950.1 L558.1 951.0 L559.7 950.9 L561.3 951.8 L562.9 952.7 L564.5 953.3 L566.1 952.4 L567.7 951.0 L569.4 952.2 L571.0 951.3 L572.6 951.0 L574.2 951.9 L575.8 951.0 L577.4 952.0 L579.0 952.2 L580.6 952.1 L582.3 952.8 L583.9 953.6 L585.5 953.1 L587.1 952.0 L588.7 951.1 L590.3 950.6 L591.9 950.8 L593.5 950.3 L595.2 950.2 L596.8 950.6 L598.4 950.3 L600.0 952.0 L601.6 952.4 L603.2 953.3 L604.8 952.6 L606.4 951.9 L608.0 950.9 L609.6 952.1 L611.2 951.9 L612.8 952.1 L614.4 951.6 L616.0 952.0 L621.0 952.0 L622.3 707.6 L623.1 507.7 L624.1 507.7 L624.9 691.2 L626.2 890.9 L634.1 915.4 L636.0 911.0 L637.9 907.6 L639.8 902.9 L641.7 900.2 L643.4 890.6 L645.2 882.8 L646.9 874.8 L648.7 868.0 L650.4 856.8 L652.1 857.1 L653.8 855.4 L655.6 854.6 L657.3 851.8 L659.0 850.3 L660.6 852.8 L662.2 853.9 L663.9 855.2 L665.5 859.0 L667.1 858.3 L668.8 860.9 L670.4 861.8 L672.0 862.8 L673.6 863.6 L675.2 864.5 L676.9 866.8 L678.5 865.5 L680.2 867.7 L681.8 867.6 L683.5 866.5 L685.1 866.0 L686.8 865.2 L688.5 864.3 L690.1 864.8 L691.8 865.7 L693.4 866.0 L695.1 866.0 L696.7 866.1 L698.4 865.9 L700.1 864.0 L701.7 865.1 L703.4 862.8 L705.0 862.6 L706.7 862.2 L708.3 861.6 L710.0 860.3 L711.6 860.8 L713.2 861.0 L714.9 860.8 L716.5 861.4 L718.1 861.9 L719.7 862.3 L721.4 862.8 L723.0 861.7 L724.6 862.6 L726.3 862.3 L727.9 862.1 L729.5 862.5 L731.1 863.0 L732.8 862.4 L734.4 862.8 L736.0 862.7 L737.7 862.0 L739.3 863.3 L741.0 863.7 L742.6 864.9 L744.3 864.7 L745.9 864.6 L747.6 864.0 L749.3 864.6 L750.9 864.3 L752.6 865.5 L754.3 866.9 L755.9 868.2 L757.6 868.6 L759.2 868.0 L760.9 869.8 L762.9 868.5 L765.0 868.7 L767.0 868.0 L768.0 868.2 L769.4 867.4 L770.6 861.4 L771.8 854.7 L773.0 861.6 L774.2 868.2 L775.6 869.5 L777.0 869.8 L778.9 870.1 L780.7 868.1 L782.6 869.8 L784.2 868.2 L785.9 868.9 L787.5 869.3 L789.2 869.9 L790.8 869.3 L792.5 868.2 L794.1 871.1 L795.7 872.7 L797.4 873.1 L799.0 873.2 L800.7 872.8 L802.3 873.0 L804.0 872.3 L805.6 872.1 L807.2 873.8 L808.9 872.3 L810.5 873.4 L812.2 873.2 L813.8 873.1 L815.4 872.7 L817.1 873.9 L818.7 872.9 L820.4 873.9 L822.0 872.8 L823.7 872.2 L825.3 871.1 L826.9 871.8 L828.6 871.2 L830.2 873.6 L831.9 874.3 L833.5 875.6 L835.2 875.3 L836.8 874.2 L838.4 874.5 L840.0 872.7 L841.6 872.1 L843.2 874.0 L844.8 873.6 L846.4 874.5 L848.1 873.7 L849.7 872.6 L851.3 873.9 L852.9 875.8 L854.5 877.7 L856.1 877.4 L857.7 875.5 L859.3 872.7 L860.9 873.5 L862.5 873.6 L864.1 875.5 L865.7 876.7 L867.3 876.9 L868.9 877.8 L870.6 878.3 L872.2 877.8 L873.8 877.4 L875.4 876.8 L877.0 876.5 L878.6 877.3 L880.2 878.5 L881.8 878.5 L883.5 878.5 L885.1 879.1 L886.8 879.5 L888.4 880.3 L890.0 880.0 L891.7 881.0 L893.3 880.0 L895.0 879.7 L896.6 879.9 L898.3 879.3 L899.9 879.1 L901.5 879.6 L903.2 880.5 L904.8 880.3 L906.5 880.2 L908.1 880.4 L909.7 880.7 L911.4 879.6 L913.0 880.1 L914.7 880.6 L916.3 880.5 L917.9 880.7 L919.6 880.5 L921.2 880.6 L922.9 881.1 L924.5 881.6 L926.2 881.8 L927.8 882.0 L929.4 882.4 L931.1 883.0 L932.7 883.6 L934.4 884.0 L936.0 882.8 L940.3 882.8 L941.9 808.5 L943.0 747.7 L944.0 747.7 L945.1 806.0 L946.7 869.5 L951.7 877.3 L953.3 878.5 L955.0 876.2 L956.6 873.4 L958.2 870.7 L959.9 869.1 L961.5 867.4 L963.1 866.5 L964.7 865.7 L966.4 863.3 L968.0 861.9 L969.8 862.2 L971.6 862.1 L973.4 862.3 L975.2 861.1 L977.0 860.6 L978.6 861.4 L980.3 862.1 L981.9 862.9 L983.5 863.0 L985.2 863.1 L986.8 864.4 L988.5 864.6 L990.1 864.6 L991.7 866.1 L993.4 866.8 L995.0 867.0 L996.7 867.2 L998.3 867.8 L1000.0 867.7 L1001.6 868.6 L1003.2 868.4 L1004.8 868.2 L1006.4 869.2 L1008.0 868.8 L1009.6 869.9 L1011.2 870.4 L1012.8 870.1 L1014.4 871.1 L1016.0 869.1 L1017.6 869.7 L1019.2 870.8 L1020.8 870.4 L1022.4 871.1 L1024.0 871.1 L1025.6 870.7 L1027.2 871.5 L1028.8 872.3 L1030.4 872.1 L1032.0 872.1 L1033.6 871.7 L1035.2 872.2 L1036.8 873.0 L1038.4 872.6 L1040.0 873.5 L1041.6 873.2 L1043.2 873.6 L1044.8 873.4 L1046.4 873.4 L1048.0 874.4 L1049.6 874.0 L1051.2 873.7 L1052.8 874.6 L1054.4 874.6 L1056.0 875.3 L1057.6 877.0 L1059.2 877.2 L1060.8 876.5 L1062.4 876.5 L1064.0 877.0 L1065.6 876.6 L1067.2 877.4 L1068.8 876.9 L1070.4 876.7 L1072.0 877.0 L1073.6 876.8 L1075.2 877.3 L1076.8 878.3 L1078.4 877.1 L1080.0 877.9 L1081.6 878.2 L1083.2 878.4 L1084.8 877.0 L1086.4 878.3 L1088.0 877.5 L1089.6 877.7 L1091.2 879.2 L1092.8 878.9 L1094.4 879.4 L1096.0 879.0 L1097.6 879.8 L1099.2 879.8 L1100.8 881.2 L1102.4 880.3 L1104.0 880.7 L1105.6 882.2 L1107.2 881.1 L1108.8 882.5 L1110.4 883.0 L1112.1 883.4 L1113.7 883.3 L1115.3 883.7 L1116.9 883.2 L1118.6 883.5 L1120.2 883.9 L1121.8 884.4 L1123.4 884.2 L1125.0 883.6 L1126.7 882.8 L1128.3 883.4 L1129.9 883.4 L1131.5 883.6 L1133.2 884.0 L1134.8 883.3 L1136.4 882.4 L1138.0 883.3 L1139.7 882.0 L1141.3 883.2 L1142.9 882.8 L1144.5 883.8 L1146.1 885.9 L1147.8 885.9 L1149.4 885.9 L1151.0 885.8 L1152.6 886.9 L1154.3 886.0 L1155.9 885.9 L1157.5 886.9 L1159.1 885.8 L1160.8 886.2 L1162.4 886.3 L1164.0 885.7 L1165.6 884.5 L1167.2 885.6 L1168.9 884.6 L1170.5 885.9 L1172.1 887.5 L1173.7 887.9 L1175.4 887.5 L1177.0 887.1 L1178.6 886.5 L1180.2 887.4 L1181.8 886.8 L1183.5 887.8 L1185.1 889.0 L1186.7 889.1 L1188.3 889.5 L1190.0 888.3 L1191.6 888.6 L1193.2 887.5 L1194.8 887.7 L1196.5 888.7 L1198.1 889.8 L1199.7 888.7 L1201.3 888.8 L1202.9 889.8 L1204.6 890.3 L1206.2 891.6 L1207.8 889.9 L1209.4 888.1 L1211.1 887.4 L1212.7 888.5 L1214.3 890.5 L1215.9 890.3 L1217.5 889.8 L1219.1 889.1 L1220.7 890.0 L1222.3 890.9 L1223.9 891.5 L1225.5 892.5 L1227.1 892.2 L1228.7 891.8 L1230.3 891.9 L1231.9 893.3 L1233.5 892.8 L1235.1 891.9 L1236.7 891.3 L1238.3 890.8 L1239.9 890.5 L1241.5 892.3 L1243.1 890.9 L1244.7 891.6 L1246.3 891.8 L1247.9 890.9 L1249.5 892.0 L1251.1 891.4 L1252.7 892.9 L1254.3 894.0 L1255.9 894.8 L1257.5 892.3 L1259.1 891.6 L1260.7 892.0 L1262.3 892.0 L1263.9 892.3 L1265.5 892.5 L1267.1 892.4 L1268.7 892.6 L1270.3 893.4 L1271.9 894.1 L1273.5 895.8 L1275.1 894.6 L1276.7 893.9 L1278.3 894.3 L1279.9 894.8 L1281.5 895.4 L1283.1 896.2 L1284.7 894.5 L1286.3 894.2 L1287.9 893.4 L1289.5 893.5 L1291.1 893.4 L1292.7 893.9 L1294.3 893.8 L1295.9 894.3 L1297.5 895.5 L1299.1 894.6 L1300.7 894.3 L1302.3 894.3 L1303.9 894.6 L1305.5 894.2 L1307.1 894.2 L1308.7 894.2 L1310.3 894.4 L1311.9 894.1 L1313.5 894.5 L1315.1 894.6 L1316.7 894.1 L1318.3 893.8 L1319.9 895.1 L1321.5 895.8 L1323.1 897.6 L1324.7 896.5 L1326.3 894.6 L1328.0 894.2 L1329.6 894.6 L1331.2 894.5 L1332.8 894.8 L1334.4 895.3 L1336.0 896.0 L1337.6 895.9 L1339.3 897.1 L1340.9 898.6 L1342.5 897.7 L1344.1 897.8 L1345.7 896.6 L1347.3 895.9 L1349.0 895.4 L1350.6 896.3 L1352.2 896.4 L1353.8 896.9 L1355.4 897.8 L1357.0 897.8 L1358.6 897.0 L1360.3 896.4 L1361.9 897.3 L1363.5 896.5 L1365.1 897.5 L1366.7 897.5 L1368.3 897.1 L1369.9 897.6 L1371.6 897.9 L1373.2 899.2 L1374.8 897.8 L1376.4 897.8 L1378.0 898.5 L1379.6 898.6 L1381.2 898.0 L1382.9 898.3 L1384.5 897.8 L1386.1 898.1 L1387.7 898.8 L1389.3 898.8 L1390.9 898.6 L1392.5 898.1 L1394.2 897.7 L1395.8 898.4 L1397.4 897.9 L1399.0 897.6 L1400.6 898.7 L1402.2 899.2 L1403.9 897.8 L1405.5 898.3 L1407.1 898.1 L1408.7 898.9 L1410.3 899.5 L1411.9 900.7 L1413.5 900.3 L1415.2 900.1 L1416.8 899.2 L1418.4 900.0 L1420.0 899.8 L1421.6 899.5 L1423.2 898.9 L1424.8 900.1 L1426.4 900.3 L1428.0 901.6 L1429.6 902.2 L1431.2 902.6 L1432.8 901.5 L1434.4 901.1 L1436.0 900.7 L1437.6 900.9 L1439.2 900.6 L1440.9 900.6 L1442.5 900.6 L1444.1 899.3 L1445.7 900.1 L1447.3 900.6 L1448.9 901.0 L1450.5 900.6 L1452.1 901.2 L1453.7 899.7 L1455.3 900.1 L1456.9 902.2 L1458.5 902.0 L1460.1 900.5 L1461.7 900.4 L1463.3 899.6 L1464.9 900.5 L1466.5 901.5 L1468.1 901.5 L1469.7 901.5 L1471.3 902.7 L1472.9 902.4 L1474.5 901.5 L1476.1 901.0 L1477.7 900.4 L1479.3 901.1 L1480.9 900.8 L1482.6 901.9 L1484.2 901.6 L1485.8 903.0 L1487.4 902.0 L1489.0 903.0 L1490.6 901.2 L1492.2 901.0 L1493.8 901.6 L1495.4 901.6 L1497.0 900.3 L1498.6 901.2 L1500.2 900.6 L1501.8 901.2 L1503.4 897.8 L1505.1 895.2 L1506.7 892.3 L1508.4 888.9 L1510.0 885.0 L1511.8 885.9 L1513.7 882.6 L1515.5 880.5 L1517.4 878.8 L1519.2 874.4 L1520.9 877.6 L1522.7 878.7 L1524.4 880.2 L1526.1 880.6 L1527.8 882.0 L1529.6 884.0 L1531.3 886.4 L1532.9 884.5 L1534.5 884.4 L1536.1 883.2 L1537.7 883.3 L1539.3 882.2 L1540.9 880.4 L1542.5 879.9 L1544.1 877.9 L1545.7 877.2 L1547.3 878.4 L1549.0 879.6 L1550.7 881.0 L1552.3 883.5 L1554.0 884.3 L1555.7 883.5 L1557.3 883.2 L1559.0 884.0 L1560.7 886.4 L1562.3 884.7 L1563.9 885.5 L1565.5 886.6 L1567.1 886.7 L1568.7 887.4 L1570.3 887.5 L1572.0 887.2 L1573.6 887.1 L1575.2 887.9 L1576.8 886.8 L1578.4 887.9 L1580.0 888.9 L1581.6 888.8 L1583.2 890.3 L1584.8 889.2 L1586.4 889.5 L1588.0 887.6 L1589.6 887.1 L1591.3 887.9 L1592.9 888.3 L1594.5 888.2 L1596.1 889.6 L1597.7 889.0 L1599.3 889.1 L1600.9 889.7 L1602.5 889.5 L1604.1 891.4 L1605.7 892.3 L1607.3 892.2 L1608.9 891.5 L1610.5 892.5 L1612.2 891.9 L1613.8 890.3 L1615.4 890.4 L1617.0 890.4 L1618.6 891.4 L1620.2 891.8 L1621.8 892.2 L1623.4 894.3 L1625.0 892.9 L1626.6 891.9 L1628.2 889.9 L1629.8 889.6 L1631.5 889.9 L1633.1 889.3 L1634.7 891.2 L1636.3 893.3 L1637.9 893.8 L1639.5 894.9 L1641.1 893.1 L1642.7 893.9 L1644.3 894.4 L1645.9 895.5 L1647.5 896.3 L1649.1 894.5 L1650.7 893.9 L1652.4 892.5 L1654.0 893.5 L1655.6 892.2 L1657.2 892.0 L1658.8 894.1 L1660.4 896.2 L1662.0 893.7 L1663.6 894.1 L1665.2 893.7 L1666.8 893.8 L1668.4 894.3 L1670.0 895.5 L1671.7 895.1 L1673.3 895.3 L1674.9 895.3 L1676.5 895.1 L1678.1 895.5 L1679.7 896.3 L1681.3 897.2 L1682.9 897.7 L1684.5 898.6 L1686.1 897.8 L1687.7 897.1 L1689.3 897.4 L1690.9 898.3 L1692.6 898.3 L1694.2 898.4 L1695.8 899.8 L1697.4 899.5 L1699.0 899.4 L1700.6 897.6 L1702.2 898.3 L1703.8 898.4 L1705.4 899.5 L1707.0 899.9 L1708.6 899.4 L1710.2 900.7 L1711.9 899.7 L1713.5 899.9 L1715.1 901.8 L1716.7 900.6 L1718.3 900.4 L1719.9 900.7 L1721.5 901.2 L1723.1 901.4 L1724.7 901.7 L1726.3 901.3 L1727.9 900.8 L1729.6 900.7 L1731.2 901.8 L1732.8 902.1 L1734.4 900.6 L1736.0 902.2 L1737.6 901.4 L1739.2 899.7 L1740.8 898.8 L1742.4 898.6 L1744.1 899.7 L1745.7 900.6 L1747.3 899.4 L1748.9 900.0 L1750.5 899.8 L1752.1 901.0 L1753.7 901.2 L1755.3 902.2 L1756.9 901.8 L1758.6 900.4 L1760.2 900.6 L1761.8 900.0 L1763.4 900.6 L1765.0 901.9 L1766.6 901.8 L1768.2 902.2 L1769.8 901.7 L1771.4 901.7 L1773.1 900.5 L1774.7 901.6 L1776.3 901.4 L1777.9 900.4 L1779.5 901.1 L1781.1 901.8 L1782.7 903.0 L1784.3 900.6 L1785.9 899.8 L1787.6 900.2 L1789.2 901.3 L1790.8 900.9 L1792.4 901.8 L1794.0 901.5 L1795.6 901.6 L1797.2 902.7 L1798.8 901.3 L1800.4 902.1 L1802.1 901.6 L1803.7 901.9 L1805.3 901.8 L1806.9 902.3 L1808.5 901.2" fill="none" stroke="#808000" stroke-width="5.4" stroke-linejoin="round" stroke-linecap="round"/>
<path d="M259.5 1112.0 L261.3 1111.4 L263.1 1111.1 L264.9 1109.3 L266.6 1109.8 L268.4 1110.8 L270.2 1112.1 L272.0 1109.0 L273.6 1108.8 L275.3 1108.6 L276.9 1109.4 L278.6 1111.1 L280.2 1110.6 L281.9 1110.4 L283.5 1110.0 L285.2 1109.8 L286.8 1109.2 L288.5 1109.5 L290.1 1109.7 L291.8 1111.0 L293.4 1112.1 L295.1 1111.2 L296.7 1111.5 L298.4 1109.8 L300.0 1109.0 L301.6 1109.1 L303.2 1109.3 L304.8 1108.1 L306.4 1107.7 L308.0 1107.7 L309.6 1106.7 L311.2 1106.7 L312.8 1107.6 L314.4 1108.2 L316.0 1109.4 L317.6 1109.7 L319.2 1110.1 L320.8 1107.9 L322.4 1107.4 L324.0 1107.0 L325.6 1109.1 L327.2 1110.4 L328.8 1113.0 L330.4 1110.7 L332.0 1110.2 L333.6 1109.8 L335.2 1109.3 L336.8 1108.1 L338.4 1109.2 L340.0 1109.0 L341.6 1110.6 L343.2 1110.1 L344.8 1108.8 L346.5 1109.2 L348.1 1108.3 L349.7 1108.5 L351.3 1107.6 L352.9 1108.2 L354.5 1108.7 L356.2 1108.4 L357.8 1107.7 L359.4 1108.3 L361.0 1108.0 L362.6 1109.5 L364.2 1110.3 L365.8 1109.6 L367.5 1108.7 L369.1 1109.1 L370.7 1109.3 L372.3 1111.0 L373.9 1110.5 L375.5 1108.4 L377.2 1108.6 L378.8 1107.7 L380.4 1109.3 L382.0 1109.0 L383.5 1108.4 L385.0 1105.0 L386.5 1101.3 L388.0 1105.0 L389.5 1108.4 L391.0 1109.0 L392.6 1108.5 L394.2 1108.9 L395.8 1107.8 L397.4 1107.9 L399.1 1109.8 L400.7 1109.2 L402.3 1110.0 L403.9 1109.0 L405.5 1109.6 L407.1 1110.5 L408.7 1110.0 L410.3 1110.6 L411.9 1109.7 L413.6 1109.9 L415.2 1109.3 L416.8 1109.1 L418.4 1107.3 L420.0 1109.0 L421.7 1107.5 L423.4 1108.0 L425.1 1108.0 L426.8 1108.3 L428.4 1108.3 L430.1 1108.6 L431.8 1108.8 L433.5 1108.2 L435.2 1107.8 L436.9 1107.4 L438.6 1108.8 L440.2 1109.0 L441.9 1108.5 L443.6 1108.6 L445.3 1108.5 L447.0 1109.0 L447.5 1109.0 L449.3 1108.4 L450.8 1105.0 L452.3 1101.3 L453.8 1105.0 L455.3 1108.4 L457.0 1109.0 L459.0 1108.6 L461.0 1109.0 L463.0 1108.7 L465.0 1107.5 L467.0 1105.0 L469.0 1103.0 L471.0 1103.5 L473.0 1104.0 L474.8 1105.1 L476.5 1107.8 L478.2 1108.1 L480.0 1109.0 L481.6 1108.1 L483.3 1108.6 L484.9 1108.7 L486.5 1109.1 L488.1 1109.7 L489.8 1110.1 L491.4 1109.8 L493.0 1109.2 L494.7 1109.2 L496.3 1108.9 L497.9 1110.4 L499.5 1110.5 L501.2 1110.3 L502.8 1109.8 L504.4 1110.0 L506.0 1109.1 L507.7 1108.9 L509.3 1109.8 L510.9 1110.7 L512.6 1111.3 L514.2 1110.8 L515.8 1110.0 L517.4 1108.3 L519.1 1109.3 L520.7 1109.1 L522.3 1109.3 L524.0 1109.7 L525.6 1109.1 L527.2 1109.1 L528.8 1110.6 L530.5 1110.1 L532.1 1109.4 L533.7 1109.2 L535.3 1107.6 L537.0 1109.6 L538.6 1110.5 L540.2 1111.0 L541.9 1109.3 L543.5 1107.3 L545.1 1108.5 L546.7 1108.1 L548.4 1109.6 L550.0 1109.0 L551.6 1109.7 L553.2 1110.4 L554.8 1110.4 L556.5 1109.3 L558.1 1109.3 L559.7 1109.7 L561.3 1108.6 L562.9 1109.0 L564.5 1108.7 L566.1 1108.8 L567.7 1109.5 L569.4 1107.9 L571.0 1108.6 L572.6 1109.1 L574.2 1109.4 L575.8 1109.8 L577.4 1110.1 L579.0 1109.3 L580.6 1109.0 L582.3 1108.7 L583.9 1109.0 L585.5 1109.6 L587.1 1109.5 L588.7 1111.4 L590.3 1109.9 L591.9 1109.7 L593.5 1107.7 L595.2 1108.4 L596.8 1107.6 L598.4 1109.0 L600.0 1109.0 L601.6 1110.0 L603.2 1109.1 L604.8 1108.8 L606.4 1109.1 L608.0 1109.1 L609.6 1109.1 L611.2 1107.9 L612.8 1107.3 L614.4 1108.8 L616.0 1109.0 L619.2 1109.0 L620.9 841.4 L622.1 622.5 L623.1 622.5 L624.3 826.5 L626.0 1048.6 L631.9 1075.8 L633.5 1072.1 L635.2 1068.9 L636.8 1066.0 L638.4 1062.4 L640.1 1058.6 L641.7 1054.1 L643.4 1047.5 L645.2 1042.6 L646.9 1037.8 L648.7 1032.9 L650.4 1026.0 L652.0 1026.2 L653.6 1025.8 L655.3 1025.0 L656.9 1021.6 L658.6 1024.9 L660.4 1023.7 L662.1 1025.1 L663.8 1025.7 L665.5 1026.9 L667.3 1028.6 L669.0 1027.8 L670.7 1030.5 L672.5 1031.8 L674.2 1032.5 L675.8 1033.4 L677.5 1033.9 L679.1 1034.3 L680.7 1032.9 L682.3 1031.5 L684.0 1030.6 L685.6 1030.7 L687.2 1030.3 L688.8 1031.6 L690.5 1030.3 L692.1 1030.1 L693.7 1030.0 L695.3 1029.8 L697.0 1030.7 L698.6 1031.8 L700.2 1030.9 L701.8 1031.1 L703.5 1030.9 L705.1 1029.9 L706.7 1030.3 L708.3 1029.5 L709.9 1030.6 L711.5 1030.7 L713.1 1031.5 L714.7 1031.2 L716.3 1032.3 L718.0 1032.3 L719.6 1033.6 L721.2 1033.1 L722.8 1032.8 L724.4 1032.3 L726.0 1032.9 L727.6 1033.0 L729.2 1032.4 L730.8 1032.9 L732.4 1033.6 L734.0 1034.3 L735.6 1034.8 L737.2 1034.9 L738.8 1034.6 L740.5 1035.8 L742.1 1036.1 L743.7 1036.3 L745.3 1037.1 L746.9 1037.6 L748.5 1036.5 L750.1 1036.8 L751.8 1036.0 L753.5 1036.3 L755.2 1037.0 L756.9 1036.8 L758.5 1036.2 L760.2 1035.4 L761.9 1035.3 L763.6 1036.3 L765.3 1035.9 L767.0 1036.0 L768.0 1036.1 L769.4 1035.4 L770.6 1030.3 L771.8 1024.9 L773.0 1030.4 L774.2 1035.7 L775.6 1036.7 L777.0 1036.8 L778.9 1035.9 L780.7 1036.0 L782.6 1036.8 L784.2 1036.6 L785.9 1036.9 L787.5 1037.0 L789.2 1037.6 L790.8 1037.4 L792.5 1037.0 L794.1 1036.6 L795.7 1038.1 L797.4 1038.4 L799.0 1038.5 L800.7 1038.5 L802.3 1039.1 L804.0 1039.6 L805.6 1040.0 L807.2 1041.0 L808.9 1040.2 L810.5 1040.7 L812.2 1040.2 L813.8 1040.5 L815.4 1039.7 L817.1 1039.8 L818.7 1038.7 L820.4 1039.6 L822.0 1040.9 L823.7 1041.9 L825.3 1041.5 L826.9 1040.6 L828.6 1039.2 L830.2 1039.2 L831.9 1039.9 L833.5 1039.7 L835.2 1040.4 L836.8 1041.1 L838.5 1042.0 L840.1 1041.5 L841.8 1042.0 L843.5 1043.1 L845.1 1042.3 L846.8 1043.3 L848.5 1046.2 L850.2 1046.3 L851.8 1047.3 L853.5 1047.0 L855.2 1046.2 L856.8 1048.1 L858.5 1047.6 L860.2 1048.8 L861.8 1048.8 L863.5 1048.8 L865.1 1049.2 L866.8 1048.7 L868.5 1047.7 L870.1 1048.8 L871.8 1048.6 L873.4 1048.2 L875.1 1048.9 L876.8 1047.9 L878.4 1048.1 L880.1 1048.6 L881.7 1047.7 L883.4 1047.9 L885.1 1046.4 L886.7 1045.9 L888.4 1046.5 L890.0 1045.6 L891.7 1045.5 L893.4 1045.8 L895.0 1044.4 L896.7 1044.7 L898.3 1044.7 L900.0 1045.0 L901.8 1044.7 L903.5 1044.8 L905.3 1044.6 L907.0 1043.8 L908.8 1044.2 L910.6 1045.7 L912.3 1048.2 L914.1 1046.8 L915.9 1048.6 L917.6 1047.0 L919.4 1045.8 L921.2 1046.1 L922.9 1046.3 L924.7 1046.8 L926.4 1048.6 L928.2 1048.5 L930.1 1047.7 L932.0 1045.9 L933.9 1046.3 L935.8 1047.0 L937.7 1045.8 L939.3 1045.8 L940.9 976.2 L942.0 919.2 L943.0 919.2 L944.1 974.5 L945.7 1034.6 L949.9 1042.0 L951.5 1039.3 L953.1 1038.1 L954.7 1038.0 L956.4 1037.4 L958.0 1037.1 L959.6 1036.5 L961.2 1035.4 L962.8 1035.2 L964.4 1033.4 L966.0 1030.4 L967.7 1028.5 L969.3 1028.3 L970.9 1027.2 L972.5 1027.8 L974.4 1028.0 L976.2 1028.5 L978.1 1030.2 L980.0 1031.6 L981.9 1034.4 L983.8 1033.1 L985.7 1034.2 L987.6 1038.2 L989.4 1036.2 L991.1 1037.9 L992.9 1039.6 L994.7 1041.6 L996.5 1039.2 L998.2 1037.1 L1000.0 1037.2 L1001.6 1037.3 L1003.2 1038.7 L1004.8 1039.1 L1006.4 1038.3 L1008.0 1039.2 L1009.6 1038.9 L1011.2 1040.2 L1012.8 1040.3 L1014.4 1040.2 L1016.0 1039.0 L1017.6 1038.6 L1019.2 1038.5 L1020.8 1040.0 L1022.4 1040.1 L1024.0 1039.3 L1025.6 1039.2 L1027.2 1040.3 L1028.8 1041.1 L1030.4 1042.4 L1032.0 1043.3 L1033.6 1042.6 L1035.2 1041.6 L1036.8 1041.5 L1038.4 1041.5 L1040.0 1041.2 L1041.6 1042.6 L1043.2 1042.1 L1044.8 1042.8 L1046.4 1042.6 L1048.0 1042.0 L1049.6 1042.1 L1051.2 1044.4 L1052.8 1045.5 L1054.4 1045.3 L1056.0 1046.7 L1057.6 1047.0 L1059.2 1045.7 L1060.8 1045.2 L1062.4 1043.9 L1064.0 1045.0 L1065.6 1046.3 L1067.2 1045.3 L1068.8 1044.2 L1070.4 1042.6 L1072.0 1043.6 L1073.6 1044.7 L1075.2 1045.2 L1076.8 1046.0 L1078.4 1045.9 L1080.0 1045.4 L1081.6 1046.7 L1083.2 1045.0 L1084.8 1047.2 L1086.4 1048.0 L1088.0 1048.6 L1089.6 1049.2 L1091.2 1048.9 L1092.8 1048.2 L1094.4 1048.3 L1096.0 1049.1 L1097.6 1049.5 L1099.2 1049.6 L1100.8 1048.6 L1102.4 1047.4 L1104.0 1047.9 L1105.6 1049.8 L1107.2 1049.9 L1108.8 1051.1 L1110.4 1050.3 L1112.1 1050.4 L1113.7 1050.7 L1115.3 1051.2 L1116.9 1051.7 L1118.6 1051.2 L1120.2 1051.7 L1121.8 1051.1 L1123.4 1051.8 L1125.0 1053.0 L1126.7 1051.2 L1128.3 1051.1 L1129.9 1050.3 L1131.5 1051.1 L1133.2 1052.4 L1134.8 1051.8 L1136.4 1051.3 L1138.0 1051.2 L1139.7 1052.1 L1141.3 1051.0 L1142.9 1052.6 L1144.5 1052.4 L1146.1 1051.7 L1147.8 1051.8 L1149.4 1051.6 L1151.0 1052.2 L1152.6 1052.4 L1154.3 1052.3 L1155.9 1052.1 L1157.5 1052.3 L1159.1 1053.2 L1160.8 1054.5 L1162.4 1054.1 L1164.0 1053.5 L1165.6 1053.0 L1167.2 1052.7 L1168.9 1052.7 L1170.5 1052.8 L1172.1 1052.8 L1173.7 1052.7 L1175.4 1052.1 L1177.0 1052.5 L1178.6 1053.1 L1180.2 1053.6 L1181.8 1053.0 L1183.5 1054.2 L1185.1 1053.3 L1186.7 1053.0 L1188.3 1054.1 L1190.0 1054.3 L1191.6 1055.5 L1193.2 1056.0 L1194.8 1055.6 L1196.5 1056.3 L1198.1 1054.8 L1199.7 1054.3 L1201.3 1054.6 L1202.9 1055.0 L1204.6 1054.6 L1206.2 1055.7 L1207.8 1056.1 L1209.4 1058.4 L1211.1 1058.1 L1212.7 1057.8 L1214.3 1056.6 L1215.9 1056.4 L1217.5 1055.9 L1219.1 1056.5 L1220.7 1056.6 L1222.3 1056.8 L1223.9 1057.0 L1225.5 1057.2 L1227.1 1057.1 L1228.7 1057.7 L1230.3 1057.5 L1231.9 1056.3 L1233.5 1057.0 L1235.1 1057.8 L1236.7 1058.1 L1238.3 1058.6 L1239.9 1059.2 L1241.5 1059.3 L1243.1 1060.4 L1244.7 1059.4 L1246.3 1060.0 L1247.9 1059.4 L1249.5 1058.9 L1251.1 1058.5 L1252.7 1057.3 L1254.3 1057.6 L1255.9 1057.1 L1257.5 1059.5 L1259.1 1060.5 L1260.7 1060.5 L1262.3 1059.0 L1263.9 1058.2 L1265.5 1058.5 L1267.1 1058.6 L1268.7 1058.9 L1270.3 1060.0 L1271.9 1059.1 L1273.5 1057.8 L1275.1 1058.6 L1276.7 1059.1 L1278.3 1059.4 L1279.9 1058.3 L1281.5 1057.8 L1283.1 1058.0 L1284.7 1058.7 L1286.3 1058.3 L1287.9 1058.3 L1289.5 1058.1 L1291.1 1058.1 L1292.7 1058.2 L1294.3 1058.2 L1295.9 1058.4 L1297.5 1058.1 L1299.1 1058.3 L1300.7 1059.1 L1302.3 1060.2 L1303.9 1061.4 L1305.5 1061.0 L1307.1 1061.5 L1308.7 1059.8 L1310.3 1059.9 L1311.9 1059.8 L1313.5 1059.9 L1315.1 1060.2 L1316.7 1059.0 L1318.3 1059.1 L1319.9 1058.6 L1321.5 1060.6 L1323.1 1058.9 L1324.7 1059.6 L1326.3 1061.1 L1328.0 1061.3 L1329.6 1061.5 L1331.2 1061.8 L1332.8 1061.8 L1334.4 1062.8 L1336.0 1063.5 L1337.6 1063.5 L1339.3 1063.4 L1340.9 1062.2 L1342.5 1061.2 L1344.1 1061.4 L1345.7 1061.2 L1347.3 1062.3 L1349.0 1063.6 L1350.6 1063.3 L1352.2 1062.7 L1353.8 1062.0 L1355.4 1061.3 L1357.0 1061.7 L1358.6 1061.5 L1360.3 1061.1 L1361.9 1060.4 L1363.5 1060.5 L1365.1 1061.6 L1366.7 1062.5 L1368.3 1062.7 L1369.9 1062.3 L1371.6 1062.5 L1373.2 1061.8 L1374.8 1062.3 L1376.4 1063.2 L1378.0 1063.4 L1379.6 1063.3 L1381.2 1062.5 L1382.9 1062.5 L1384.5 1063.0 L1386.1 1063.0 L1387.7 1061.8 L1389.3 1061.1 L1390.9 1061.2 L1392.5 1061.6 L1394.2 1062.5 L1395.8 1061.8 L1397.4 1062.6 L1399.0 1062.1 L1400.6 1062.9 L1402.2 1062.9 L1403.9 1065.4 L1405.5 1064.2 L1407.1 1064.0 L1408.7 1061.8 L1410.3 1063.0 L1411.9 1063.2 L1413.5 1064.6 L1415.2 1063.8 L1416.8 1064.3 L1418.4 1064.5 L1420.0 1063.3 L1421.6 1064.2 L1423.3 1063.5 L1424.9 1062.8 L1426.5 1062.7 L1428.1 1063.8 L1429.8 1063.8 L1431.4 1063.4 L1433.0 1064.5 L1434.6 1063.6 L1436.3 1063.1 L1437.9 1063.3 L1439.5 1064.2 L1441.1 1064.0 L1442.8 1063.6 L1444.4 1062.8 L1446.0 1062.9 L1447.6 1063.1 L1449.3 1061.8 L1450.9 1063.3 L1452.5 1063.3 L1454.1 1064.0 L1455.8 1063.5 L1457.4 1064.0 L1459.0 1063.6 L1460.6 1064.2 L1462.3 1063.9 L1463.9 1063.5 L1465.5 1063.8 L1467.1 1063.8 L1468.8 1064.6 L1470.4 1066.2 L1472.0 1066.1 L1473.6 1066.2 L1475.3 1065.2 L1476.9 1065.5 L1478.5 1066.1 L1480.1 1065.8 L1481.8 1066.4 L1483.4 1065.6 L1485.0 1065.5 L1486.6 1065.6 L1488.3 1064.9 L1489.9 1064.1 L1491.5 1064.0 L1493.1 1064.9 L1494.8 1064.9 L1496.4 1065.9 L1498.2 1063.9 L1499.9 1061.5 L1501.7 1059.0 L1503.5 1057.0 L1505.2 1053.5 L1507.0 1052.0 L1508.8 1048.2 L1510.6 1047.5 L1512.5 1046.1 L1514.3 1045.0 L1516.1 1044.1 L1517.9 1039.1 L1519.6 1041.6 L1521.2 1042.7 L1522.9 1043.2 L1524.6 1044.9 L1526.3 1046.0 L1528.0 1049.1 L1529.6 1051.6 L1531.3 1053.9 L1532.9 1053.3 L1534.5 1051.7 L1536.1 1051.8 L1537.7 1051.7 L1539.3 1051.0 L1540.9 1050.1 L1542.5 1049.2 L1544.1 1048.3 L1545.7 1047.1 L1547.3 1045.8 L1548.9 1046.8 L1550.5 1046.1 L1552.1 1046.4 L1553.7 1046.9 L1555.3 1047.3 L1556.9 1048.0 L1558.6 1048.2 L1560.2 1047.2 L1561.8 1046.6 L1563.4 1046.9 L1565.0 1046.6 L1566.6 1046.0 L1568.2 1047.2 L1569.8 1047.7 L1571.4 1048.4 L1573.0 1048.2 L1574.6 1048.8 L1576.2 1048.7 L1577.9 1048.9 L1579.5 1049.9 L1581.1 1050.8 L1582.7 1051.3 L1584.3 1053.0 L1585.9 1052.5 L1587.5 1051.2 L1589.1 1051.1 L1590.7 1050.2 L1592.3 1050.3 L1593.9 1050.2 L1595.5 1052.5 L1597.1 1052.6 L1598.8 1053.7 L1600.4 1054.6 L1602.0 1056.4 L1603.6 1054.3 L1605.2 1054.0 L1606.8 1052.7 L1608.4 1052.4 L1610.0 1054.1 L1611.6 1053.9 L1613.2 1054.6 L1614.8 1054.7 L1616.4 1054.2 L1618.1 1054.6 L1619.7 1054.5 L1621.3 1054.9 L1622.9 1055.5 L1624.5 1055.5 L1626.1 1055.5 L1627.7 1054.5 L1629.3 1053.9 L1630.9 1054.8 L1632.5 1056.5 L1634.1 1056.1 L1635.7 1056.0 L1637.3 1055.4 L1639.0 1055.3 L1640.6 1055.8 L1642.2 1056.3 L1643.8 1056.3 L1645.4 1058.3 L1647.0 1059.2 L1648.6 1058.5 L1650.2 1058.4 L1651.8 1058.7 L1653.4 1056.9 L1655.0 1056.7 L1656.6 1056.4 L1658.3 1056.4 L1659.9 1057.4 L1661.5 1058.5 L1663.1 1058.2 L1664.7 1060.2 L1666.3 1059.5 L1667.9 1059.2 L1669.5 1057.4 L1671.1 1058.4 L1672.7 1059.3 L1674.4 1060.5 L1676.0 1060.7 L1677.6 1060.2 L1679.2 1060.0 L1680.8 1061.9 L1682.4 1061.8 L1684.1 1061.8 L1685.7 1061.5 L1687.3 1060.5 L1688.9 1061.7 L1690.5 1060.8 L1692.1 1060.6 L1693.8 1060.8 L1695.4 1060.3 L1697.0 1060.4 L1698.6 1060.9 L1700.2 1060.8 L1701.8 1060.0 L1703.5 1059.9 L1705.1 1059.8 L1706.7 1060.0 L1708.3 1061.9 L1709.9 1061.9 L1711.5 1062.9 L1713.2 1063.2 L1714.8 1062.9 L1716.4 1061.5 L1718.0 1060.9 L1719.6 1061.6 L1721.2 1061.5 L1722.8 1060.7 L1724.5 1061.3 L1726.1 1062.5 L1727.7 1061.9 L1729.3 1061.7 L1730.9 1061.0 L1732.5 1060.4 L1734.2 1061.5 L1735.8 1062.9 L1737.4 1063.6 L1739.0 1063.9 L1740.6 1063.5 L1742.2 1061.8 L1743.9 1061.8 L1745.5 1061.1 L1747.1 1061.8 L1748.7 1062.7 L1750.3 1064.4 L1751.9 1063.4 L1753.6 1063.7 L1755.2 1062.8 L1756.8 1062.8 L1758.4 1063.1 L1760.0 1063.6 L1761.6 1062.4 L1763.2 1060.6 L1764.9 1062.4 L1766.5 1061.5 L1768.1 1062.1 L1769.7 1063.2 L1771.3 1063.5 L1772.9 1064.2 L1774.6 1064.2 L1776.2 1063.7 L1777.8 1063.4 L1779.4 1063.1 L1781.0 1065.2 L1782.6 1065.0 L1784.3 1063.4 L1785.9 1061.5 L1787.5 1062.6 L1789.1 1062.6 L1790.7 1063.9 L1792.3 1063.3 L1794.0 1063.2 L1795.6 1063.5 L1797.2 1064.2 L1798.8 1065.1 L1800.4 1065.8 L1802.0 1065.4 L1803.7 1064.1 L1805.3 1064.4 L1806.9 1064.1 L1808.5 1064.6" fill="none" stroke="#000080" stroke-width="5.4" stroke-linejoin="round" stroke-linecap="round"/>
<line x1="378.2" y1="389.9" x2="340.5" y2="352.2" stroke="#111" stroke-width="2.8"/><polygon points="321.8,333.5 347.6,348.0 336.3,359.3" fill="#000"/>
<line x1="450.8" y1="383.3" x2="485.0" y2="349.8" stroke="#111" stroke-width="2.8"/><polygon points="503.9,331.3 489.1,357.0 477.9,345.5" fill="#000"/>
<path d="M261.3 2007.3 L261.3 1445.7 L1818.3 1445.7 L1818.3 2007.3" fill="none" stroke="#000" stroke-width="8.2" stroke-linejoin="round"/>
<path d="M261.3 2027.1 L261.3 2589.0 L1818.3 2589.0 L1818.3 2027.1" fill="none" stroke="#000" stroke-width="8.2" stroke-linejoin="round"/>
<line x1="237.8" y1="2017.4" x2="284.3" y2="1997.4" stroke="#000" stroke-width="7.2" stroke-linecap="round"/>
<line x1="237.8" y1="2037.2" x2="284.3" y2="2017.2" stroke="#000" stroke-width="7.2" stroke-linecap="round"/>
<line x1="1794.8" y1="2017.4" x2="1841.3" y2="1997.4" stroke="#000" stroke-width="7.2" stroke-linecap="round"/>
<line x1="1794.8" y1="2037.2" x2="1841.3" y2="2017.2" stroke="#000" stroke-width="7.2" stroke-linecap="round"/>
<line x1="261.3" y1="1670.3" x2="284.8" y2="1670.3" stroke="#000" stroke-width="7" stroke-linecap="round"/>
<line x1="261.3" y1="1895.0" x2="284.8" y2="1895.0" stroke="#000" stroke-width="7" stroke-linecap="round"/>
<line x1="261.3" y1="1558.0" x2="272.5" y2="1558.0" stroke="#000" stroke-width="7" stroke-linecap="round"/>
<line x1="261.3" y1="1782.7" x2="272.5" y2="1782.7" stroke="#000" stroke-width="7" stroke-linecap="round"/>
<line x1="261.3" y1="2214.4" x2="284.8" y2="2214.4" stroke="#000" stroke-width="7" stroke-linecap="round"/>
<line x1="261.3" y1="2401.7" x2="284.8" y2="2401.7" stroke="#000" stroke-width="7" stroke-linecap="round"/>
<line x1="261.3" y1="2120.8" x2="272.5" y2="2120.8" stroke="#000" stroke-width="7" stroke-linecap="round"/>
<line x1="261.3" y1="2308.1" x2="272.5" y2="2308.1" stroke="#000" stroke-width="7" stroke-linecap="round"/>
<line x1="261.3" y1="2495.3" x2="272.5" y2="2495.3" stroke="#000" stroke-width="7" stroke-linecap="round"/>
<line x1="417.0" y1="2589.0" x2="417.0" y2="2565.8" stroke="#000" stroke-width="7" stroke-linecap="round"/>
<line x1="728.4" y1="2589.0" x2="728.4" y2="2565.8" stroke="#000" stroke-width="7" stroke-linecap="round"/>
<line x1="1039.8" y1="2589.0" x2="1039.8" y2="2565.8" stroke="#000" stroke-width="7" stroke-linecap="round"/>
<line x1="1351.2" y1="2589.0" x2="1351.2" y2="2565.8" stroke="#000" stroke-width="7" stroke-linecap="round"/>
<line x1="1662.6" y1="2589.0" x2="1662.6" y2="2565.8" stroke="#000" stroke-width="7" stroke-linecap="round"/>
<line x1="572.7" y1="2589.0" x2="572.7" y2="2577.2" stroke="#000" stroke-width="7" stroke-linecap="round"/>
<line x1="884.1" y1="2589.0" x2="884.1" y2="2577.2" stroke="#000" stroke-width="7" stroke-linecap="round"/>
<line x1="1195.5" y1="2589.0" x2="1195.5" y2="2577.2" stroke="#000" stroke-width="7" stroke-linecap="round"/>
<line x1="1506.9" y1="2589.0" x2="1506.9" y2="2577.2" stroke="#000" stroke-width="7" stroke-linecap="round"/>
<polyline points="417.0,1943.1 728.4,1807.1 1039.8,1677.1 1351.2,1596.9 1662.6,1550.4" fill="none" stroke="#111" stroke-width="4" stroke-linejoin="round"/>
<polyline points="417.0,2130.1 728.4,2227.5 1039.8,2321.5 1351.2,2396.5 1662.6,2425.7" fill="none" stroke="#0000ff" stroke-width="4" stroke-linejoin="round"/>
<polyline points="417.0,2218.1 728.4,2344.8 1039.8,2471.0 1351.2,2529.8 1662.6,2575.9" fill="none" stroke="#ff0000" stroke-width="4" stroke-linejoin="round"/>
<circle cx="417.0" cy="1943.1" r="18.0" fill="#fdfdfd" stroke="#333" stroke-width="3.6"/>
<circle cx="728.4" cy="1807.1" r="18.0" fill="#fdfdfd" stroke="#333" stroke-width="3.6"/>
<circle cx="1039.8" cy="1677.1" r="18.0" fill="#fdfdfd" stroke="#333" stroke-width="3.6"/>
<circle cx="1351.2" cy="1596.9" r="18.0" fill="#fdfdfd" stroke="#333" stroke-width="3.6"/>
<circle cx="1662.6" cy="1550.4" r="18.0" fill="#fdfdfd" stroke="#333" stroke-width="3.6"/>
<polygon points="417.0,2107.8 397.2,2141.3 436.8,2141.3" fill="#fdfdfd" stroke="#0000ff" stroke-width="3" stroke-linejoin="miter"/>
<polygon points="728.4,2205.2 708.7,2238.7 748.2,2238.7" fill="#fdfdfd" stroke="#0000ff" stroke-width="3" stroke-linejoin="miter"/>
<polygon points="1039.8,2299.2 1020.0,2332.7 1059.5,2332.7" fill="#fdfdfd" stroke="#0000ff" stroke-width="3" stroke-linejoin="miter"/>
<polygon points="1351.2,2374.1 1331.5,2407.6 1371.0,2407.6" fill="#fdfdfd" stroke="#0000ff" stroke-width="3" stroke-linejoin="miter"/>
<polygon points="1662.6,2403.3 1642.8,2436.8 1682.3,2436.8" fill="#fdfdfd" stroke="#0000ff" stroke-width="3" stroke-linejoin="miter"/>
<rect x="401.9" y="2203.0" width="30.2" height="30.2" fill="#fdfdfd" stroke="#ff0000" stroke-width="2.8"/>
<rect x="713.3" y="2329.7" width="30.2" height="30.2" fill="#fdfdfd" stroke="#ff0000" stroke-width="2.8"/>
<rect x="1024.7" y="2455.9" width="30.2" height="30.2" fill="#fdfdfd" stroke="#ff0000" stroke-width="2.8"/>
<rect x="1336.1" y="2514.7" width="30.2" height="30.2" fill="#fdfdfd" stroke="#ff0000" stroke-width="2.8"/>
<rect x="1647.5" y="2560.8" width="30.2" height="30.2" fill="#fdfdfd" stroke="#ff0000" stroke-width="2.8"/>
<rect x="1533.8" y="1870.3" width="236.8" height="214.3" fill="#fdfdfd" stroke="#6e6e6e" stroke-width="3.2" stroke-linejoin="round"/>
<line x1="1563.5" y1="1913.7" x2="1692" y2="1913.7" stroke="#ff0000" stroke-width="3.6" stroke-linecap="round"/>
<rect x="1612.0" y="1898.2" width="30.5" height="30.5" fill="#fdfdfd" stroke="#ff0000" stroke-width="2.8"/>
<line x1="1563.5" y1="1983.6" x2="1692" y2="1983.6" stroke="#111" stroke-width="3.6" stroke-linecap="round"/>
<circle cx="1627.6" cy="1983.5" r="17.5" fill="#fdfdfd" stroke="#333" stroke-width="3.6"/>
<line x1="1563.5" y1="2053.7" x2="1692" y2="2053.7" stroke="#0000ff" stroke-width="3.6" stroke-linecap="round"/>
<polygon points="1627.6,2030.6 1607.1,2065.1 1648.1,2065.1" fill="#fdfdfd" stroke="#0000ff" stroke-width="3" stroke-linejoin="miter"/>
<text transform="translate(1485.79 1236.82) scale(0.9280 1)" font-family="'Liberation Serif', 'Times New Roman', serif" font-weight="bold" font-size="69.94" fill="#000">1000</text>
<text transform="translate(241.77 1236.82) scale(0.9280 1)" font-family="'Liberation Serif', 'Times New Roman', serif" font-weight="bold" font-size="69.94" fill="#000">0</text>
<text transform="translate(468.16 1236.82) scale(0.9280 1)" font-family="'Liberation Serif', 'Times New Roman', serif" font-weight="bold" font-size="69.94" fill="#000">200</text>
<text transform="translate(726.80 1236.82) scale(0.9280 1)" font-family="'Liberation Serif', 'Times New Roman', serif" font-weight="bold" font-size="69.94" fill="#000">400</text>
<text transform="translate(985.48 1236.82) scale(0.9280 1)" font-family="'Liberation Serif', 'Times New Roman', serif" font-weight="bold" font-size="69.94" fill="#000">600</text>
<text transform="translate(1244.32 1236.82) scale(0.9280 1)" font-family="'Liberation Serif', 'Times New Roman', serif" font-weight="bold" font-size="69.94" fill="#000">800</text>
<text transform="translate(1744.29 1236.82) scale(0.9280 1)" font-family="'Liberation Serif', 'Times New Roman', serif" font-weight="bold" font-size="69.94" fill="#000">1200</text>
<text transform="translate(648.66 1341.44) scale(1.0288 1)" font-family="'Liberation Serif', 'Times New Roman', serif" font-weight="bold" font-size="86.97" fill="#000">Binding energy (eV)</text>
<text transform="translate(159.84 904.14) rotate(-90) scale(1.0325 1)" font-family="'Liberation Serif', 'Times New Roman', serif" font-weight="bold" font-size="86.81" fill="#000">Intensity (a.u.)</text>
<text transform="translate(271.92 114.65) scale(1.0313 1)" font-family="'Liberation Serif', 'Times New Roman', serif" font-weight="bold" font-size="88.00" fill="#000">(a)</text>
<text transform="translate(635.80 159.80) scale(0.9433 1)" font-family="'Liberation Serif', 'Times New Roman', serif" font-weight="bold" font-size="67.36" fill="#000">C1s</text>
<text transform="translate(954.79 171.32) scale(0.9432 1)" font-family="'Liberation Serif', 'Times New Roman', serif" font-weight="bold" font-size="68.13" fill="#000">O1s</text>
<text transform="translate(264.94 316.67) scale(1.0399 1)" font-family="'Liberation Serif', 'Times New Roman', serif" font-weight="bold" font-size="62.15" fill="#000">Si2p</text>
<text transform="translate(449.47 314.38) scale(1.0276 1)" font-family="'Liberation Serif', 'Times New Roman', serif" font-weight="bold" font-size="62.41" fill="#000">Si2s</text>
<text transform="translate(1552.96 334.84) scale(0.9492 1)" font-family="'Liberation Serif', 'Times New Roman', serif" font-weight="bold" font-size="66.84" fill="#000">20sccm</text>
<text transform="translate(1556.55 513.30) scale(0.9492 1)" font-family="'Liberation Serif', 'Times New Roman', serif" font-weight="bold" font-size="66.84" fill="#000">40sccm</text>
<text transform="translate(1558.28 694.37) scale(0.9492 1)" font-family="'Liberation Serif', 'Times New Roman', serif" font-weight="bold" font-size="66.84" fill="#000">60sccm</text>
<text transform="translate(1543.42 870.84) scale(0.9492 1)" font-family="'Liberation Serif', 'Times New Roman', serif" font-weight="bold" font-size="66.84" fill="#000">100sccm</text>
<text transform="translate(1548.92 1030.84) scale(0.9492 1)" font-family="'Liberation Serif', 'Times New Roman', serif" font-weight="bold" font-size="66.84" fill="#000">150sccm</text>
<text transform="translate(135.06 1464.78) scale(0.9211 1)" font-family="'Liberation Serif', 'Times New Roman', serif" font-weight="bold" font-size="73.58" fill="#000">100</text>
<text transform="translate(169.42 1689.64) scale(0.9211 1)" font-family="'Liberation Serif', 'Times New Roman', serif" font-weight="bold" font-size="73.58" fill="#000">90</text>
<text transform="translate(169.42 1914.69) scale(0.9211 1)" font-family="'Liberation Serif', 'Times New Roman', serif" font-weight="bold" font-size="73.58" fill="#000">80</text>
<text transform="translate(169.42 2234.05) scale(0.9211 1)" font-family="'Liberation Serif', 'Times New Roman', serif" font-weight="bold" font-size="73.58" fill="#000">10</text>
<text transform="translate(202.99 2421.73) scale(0.9211 1)" font-family="'Liberation Serif', 'Times New Roman', serif" font-weight="bold" font-size="73.58" fill="#000">5</text>
<text transform="translate(203.30 2608.50) scale(0.9211 1)" font-family="'Liberation Serif', 'Times New Roman', serif" font-weight="bold" font-size="73.58" fill="#000">0</text>
<text transform="translate(1299.10 2671.29) scale(0.9474 1)" font-family="'Liberation Serif', 'Times New Roman', serif" font-weight="bold" font-size="71.14" fill="#000">100</text>
<text transform="translate(384.31 2671.29) scale(0.9474 1)" font-family="'Liberation Serif', 'Times New Roman', serif" font-weight="bold" font-size="71.14" fill="#000">20</text>
<text transform="translate(696.64 2671.29) scale(0.9474 1)" font-family="'Liberation Serif', 'Times New Roman', serif" font-weight="bold" font-size="71.14" fill="#000">40</text>
<text transform="translate(1011.47 2671.29) scale(0.9474 1)" font-family="'Liberation Serif', 'Times New Roman', serif" font-weight="bold" font-size="71.14" fill="#000">60</text>
<text transform="translate(1615.10 2671.29) scale(0.9474 1)" font-family="'Liberation Serif', 'Times New Roman', serif" font-weight="bold" font-size="71.14" fill="#000">150</text>
<text transform="translate(622.83 2773.15) scale(1.0174 1)" font-family="'Liberation Serif', 'Times New Roman', serif" font-weight="bold" font-size="92.05" fill="#000">CH<tspan font-size="0.62em" dy="0.43em">4</tspan><tspan dy="-0.266em"> flow rate (sccm)</tspan></text>
<text transform="translate(91.45 2362.96) rotate(-90) scale(1.0592 1)" font-family="'Liberation Serif', 'Times New Roman', serif" font-weight="bold" font-size="93.59" fill="#000">Content (at.%)</text>
<text transform="translate(275.75 1536.51) scale(1.0397 1)" font-family="'Liberation Serif', 'Times New Roman', serif" font-weight="bold" font-size="90.69" fill="#000">(b)</text>
<text transform="translate(1705.23 1933.45) scale(1.0709 1)" font-family="'Liberation Sans', Arial, sans-serif" font-weight="normal" font-size="56.68" fill="#000">Si</text>
<text transform="translate(1706.06 2002.94) scale(0.9617 1)" font-family="'Liberation Sans', Arial, sans-serif" font-weight="normal" font-size="59.96" fill="#000">C</text>
<text transform="translate(1706.42 2073.93) scale(0.9503 1)" font-family="'Liberation Sans', Arial, sans-serif" font-weight="normal" font-size="59.96" fill="#000">O</text></svg>
</body></html>
